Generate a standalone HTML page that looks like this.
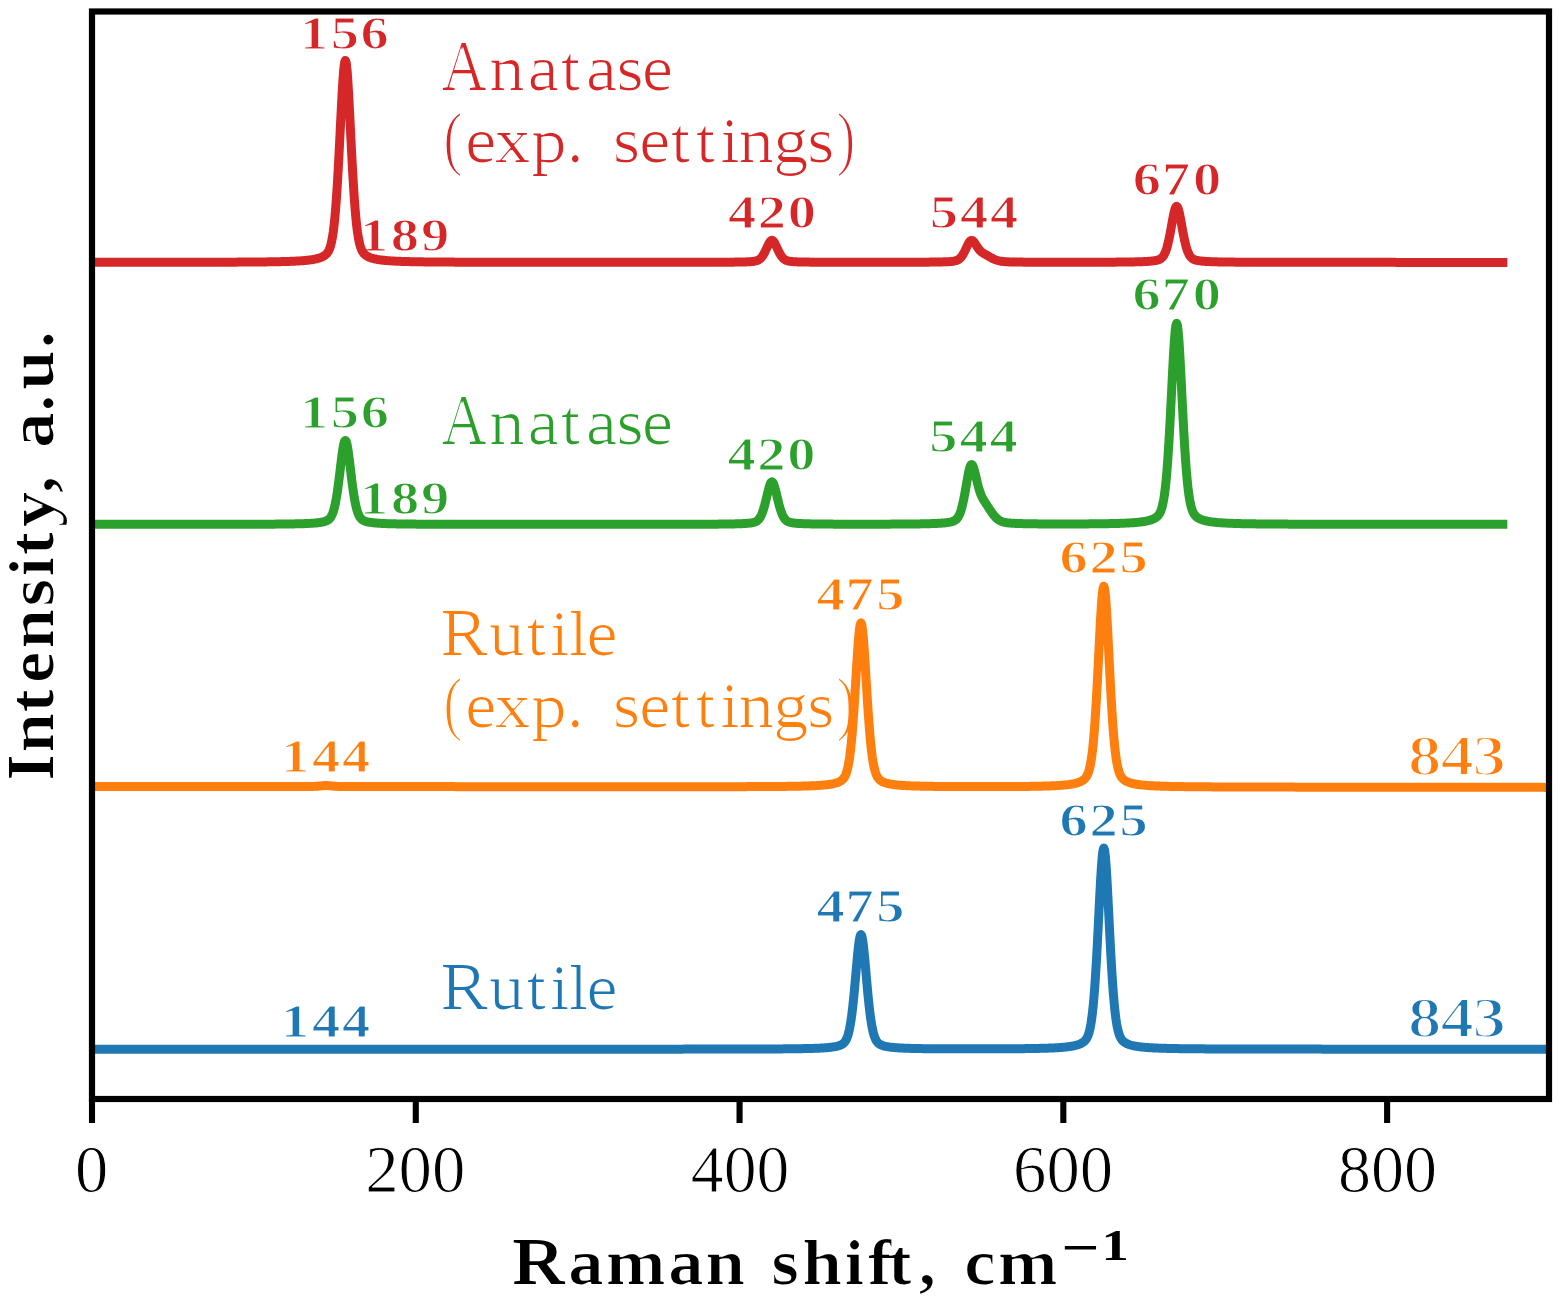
<!DOCTYPE html><html><head><meta charset="utf-8"><title>Raman spectra</title><style>html,body{margin:0;padding:0;background:#fff;}svg{display:block;}text{font-family:"Liberation Serif",serif;}</style></head><body>
<svg width="1562" height="1304" viewBox="0 0 1562 1304">
<rect width="1562" height="1304" fill="#fff"/>
<defs><filter id="erH" x="-5%" y="-10%" width="110%" height="120%"><feMorphology operator="erode" radius="1 0.01"/></filter><filter id="erV" x="-10%" y="-5%" width="120%" height="110%"><feMorphology operator="erode" radius="0.01 1"/></filter><clipPath id="ax"><rect x="92" y="11.5" width="1457" height="1087.5"/></clipPath></defs>
<text id="t0" transform="translate(74.90,1191.82) scale(0.9771,1)" font-size="68.15" font-weight="normal" fill="#000" stroke="#fff" stroke-width="1.02" stroke-linejoin="round">0</text>
<text id="t200" transform="translate(365.19,1191.82) scale(0.9814,1)" font-size="68.15" font-weight="normal" fill="#000" stroke="#fff" stroke-width="1.02" stroke-linejoin="round">200</text>
<text id="t400" transform="translate(690.79,1191.82) scale(0.9644,1)" font-size="68.15" font-weight="normal" fill="#000" stroke="#fff" stroke-width="1.04" stroke-linejoin="round">400</text>
<text id="t600" transform="translate(1013.06,1191.82) scale(0.9796,1)" font-size="68.15" font-weight="normal" fill="#000" stroke="#fff" stroke-width="1.02" stroke-linejoin="round">600</text>
<text id="t800" transform="translate(1338.02,1191.82) scale(0.9690,1)" font-size="68.15" font-weight="normal" fill="#000" stroke="#fff" stroke-width="1.03" stroke-linejoin="round">800</text>
<text id="xm" transform="translate(1061.45,1271.03) scale(0.9585,1)" font-size="70.00" font-weight="normal" fill="#000">−</text>
<text id="x1" transform="translate(1101.42,1259.50) scale(1.2154,1)" font-size="45.00" font-weight="bold" fill="#000">1</text>
<g filter="url(#erH)"><text id="rA" transform="translate(0,89.80) scale(1.1500,1)" x="383.80 425.33 458.49 487.50 509.18 535.63 557.91" y="0" font-size="62.61" font-weight="normal" fill="#d62728" xml:space="preserve"><tspan font-size="71.36" textLength="39.73" lengthAdjust="spacingAndGlyphs">A</tspan>natase</text></g>
<g filter="url(#erH)"><text id="gA" transform="translate(0,443.70) scale(1.1500,1)" x="383.80 425.33 458.49 487.50 509.18 535.63 557.91" y="0" font-size="62.61" font-weight="normal" fill="#2ca02c" xml:space="preserve"><tspan font-size="71.36" textLength="39.73" lengthAdjust="spacingAndGlyphs">A</tspan>natase</text></g>
<g filter="url(#erH)"><text id="bR" transform="translate(0,1008.50) scale(1.1500,1)" x="382.55 424.94 457.68 478.10 494.27 509.48" y="0" font-size="62.61" font-weight="normal" fill="#1f77b4" xml:space="preserve"><tspan font-size="68.09" textLength="42.02" lengthAdjust="spacingAndGlyphs">R</tspan>utile</text></g>
<g filter="url(#erH)"><text id="oR" transform="translate(0,654.70) scale(1.1500,1)" x="382.55 424.94 457.68 478.10 494.27 509.48" y="0" font-size="62.61" font-weight="normal" fill="#ff7f0e" xml:space="preserve"><tspan font-size="68.09" textLength="42.02" lengthAdjust="spacingAndGlyphs">R</tspan>utile</text></g>
<g filter="url(#erH)"><text id="rE" transform="translate(0,162.00) scale(1.1500,1)" x="385.32 404.09 430.08 461.65 492.35 513.91 532.67 555.48 582.98 604.81 626.10 641.94 671.99 701.45 727.22" y="0" font-size="62.61" font-weight="normal" fill="#d62728" xml:space="preserve"><tspan font-size="71.18" textLength="17.26" lengthAdjust="spacingAndGlyphs">(</tspan>exp. settings<tspan font-size="71.18" textLength="16.87" lengthAdjust="spacingAndGlyphs">)</tspan></text></g>
<g filter="url(#erH)"><text id="oE" transform="translate(0,727.00) scale(1.1500,1)" x="385.32 404.09 430.08 461.65 492.35 513.91 532.67 555.48 582.98 604.81 626.10 641.94 671.99 701.45 727.22" y="0" font-size="62.61" font-weight="normal" fill="#ff7f0e" xml:space="preserve"><tspan font-size="71.18" textLength="17.26" lengthAdjust="spacingAndGlyphs">(</tspan>exp. settings<tspan font-size="71.18" textLength="16.87" lengthAdjust="spacingAndGlyphs">)</tspan></text></g>
<g filter="url(#erH)"><text id="xl" transform="translate(0,1284.00) scale(1.1500,1)" x="444.86 493.77 526.49 580.73 613.07 648.64 670.42 697.32 734.15 754.27 772.07 798.47 818.21 838.09 867.36" y="0" font-size="63.04" font-weight="bold" fill="#000" xml:space="preserve"><tspan font-size="68.70" textLength="46.89" lengthAdjust="spacingAndGlyphs">R</tspan>aman shift, cm</text></g>
<g filter="url(#erV)"><text id="yl" transform="translate(53.00,0) rotate(-90) scale(1.1500,1)" x="-679.27 -654.85 -619.93 -594.44 -564.32 -527.67 -501.51 -483.32 -458.63 -429.18 -407.88 -389.79 -358.40 -339.35 -303.36" y="0" font-size="63.04" font-weight="bold" fill="#000" xml:space="preserve"><tspan font-size="68.70" textLength="24.03" lengthAdjust="spacingAndGlyphs">I</tspan>ntensity, a.u.</text></g>
<text id="r156" transform="translate(0,48.68) scale(1.2000,1)" x="249.98 275.57 300.51" y="0" font-size="47.00" font-weight="bold" fill="#d62728" stroke="#fff" stroke-width="1.10" stroke-linejoin="round" xml:space="preserve">156</text>
<text id="r189" transform="translate(0,250.88) scale(1.2000,1)" x="300.02 325.67 350.84" y="0" font-size="47.00" font-weight="bold" fill="#d62728" stroke="#fff" stroke-width="1.10" stroke-linejoin="round" xml:space="preserve">189</text>
<text id="r420" transform="translate(0,227.98) scale(1.2000,1)" x="606.62 631.50 656.50" y="0" font-size="47.00" font-weight="bold" fill="#d62728" stroke="#fff" stroke-width="1.10" stroke-linejoin="round" xml:space="preserve">420</text>
<text id="r544" transform="translate(0,227.98) scale(1.2000,1)" x="774.86 800.04 825.04" y="0" font-size="47.00" font-weight="bold" fill="#d62728" stroke="#fff" stroke-width="1.10" stroke-linejoin="round" xml:space="preserve">544</text>
<text id="r670" transform="translate(0,194.98) scale(1.2000,1)" x="944.01 968.36 994.13" y="0" font-size="47.00" font-weight="bold" fill="#d62728" stroke="#fff" stroke-width="1.10" stroke-linejoin="round" xml:space="preserve">670</text>
<text id="g156" transform="translate(0,427.68) scale(1.2000,1)" x="250.06 275.65 300.59" y="0" font-size="47.00" font-weight="bold" fill="#2ca02c" stroke="#fff" stroke-width="1.10" stroke-linejoin="round" xml:space="preserve">156</text>
<text id="g189" transform="translate(0,514.48) scale(1.2000,1)" x="300.10 325.75 350.93" y="0" font-size="47.00" font-weight="bold" fill="#2ca02c" stroke="#fff" stroke-width="1.10" stroke-linejoin="round" xml:space="preserve">189</text>
<text id="g420" transform="translate(0,469.58) scale(1.2000,1)" x="606.20 631.08 656.08" y="0" font-size="47.00" font-weight="bold" fill="#2ca02c" stroke="#fff" stroke-width="1.10" stroke-linejoin="round" xml:space="preserve">420</text>
<text id="g544" transform="translate(0,451.58) scale(1.2000,1)" x="774.36 799.54 824.54" y="0" font-size="47.00" font-weight="bold" fill="#2ca02c" stroke="#fff" stroke-width="1.10" stroke-linejoin="round" xml:space="preserve">544</text>
<text id="g670" transform="translate(0,310.48) scale(1.2000,1)" x="943.84 968.20 993.96" y="0" font-size="47.00" font-weight="bold" fill="#2ca02c" stroke="#fff" stroke-width="1.10" stroke-linejoin="round" xml:space="preserve">670</text>
<text id="o475" transform="translate(0,609.78) scale(1.2000,1)" x="680.37 704.49 730.19" y="0" font-size="47.00" font-weight="bold" fill="#ff7f0e" stroke="#fff" stroke-width="1.10" stroke-linejoin="round" xml:space="preserve">475</text>
<text id="o625" transform="translate(0,572.88) scale(1.2000,1)" x="882.88 908.00 932.94" y="0" font-size="47.00" font-weight="bold" fill="#ff7f0e" stroke="#fff" stroke-width="1.10" stroke-linejoin="round" xml:space="preserve">625</text>
<text id="o144" transform="translate(0,772.25) scale(1.2000,1)" x="234.31 260.08 285.08" y="0" font-size="47.00" font-weight="bold" fill="#ff7f0e" stroke="#fff" stroke-width="1.10" stroke-linejoin="round" xml:space="preserve">144</text>
<text id="b475" transform="translate(0,922.48) scale(1.2000,1)" x="680.37 704.49 730.19" y="0" font-size="47.00" font-weight="bold" fill="#1f77b4" stroke="#fff" stroke-width="1.10" stroke-linejoin="round" xml:space="preserve">475</text>
<text id="b625" transform="translate(0,835.98) scale(1.2000,1)" x="882.88 908.00 932.94" y="0" font-size="47.00" font-weight="bold" fill="#1f77b4" stroke="#fff" stroke-width="1.10" stroke-linejoin="round" xml:space="preserve">625</text>
<text id="b144" transform="translate(0,1037.05) scale(1.2000,1)" x="234.23 259.99 284.99" y="0" font-size="47.00" font-weight="bold" fill="#1f77b4" stroke="#fff" stroke-width="1.10" stroke-linejoin="round" xml:space="preserve">144</text>
<text id="o843" transform="translate(0,775.34) scale(1.2000,1)" x="1173.06 1200.11 1226.82" y="0" font-size="56.44" font-weight="bold" fill="#ff7f0e" stroke="#fff" stroke-width="2.20" stroke-linejoin="round" xml:space="preserve">843</text>
<text id="b843" transform="translate(0,1037.44) scale(1.2000,1)" x="1173.06 1200.11 1226.82" y="0" font-size="56.44" font-weight="bold" fill="#1f77b4" stroke="#fff" stroke-width="2.20" stroke-linejoin="round" xml:space="preserve">843</text>
<g clip-path="url(#ax)" fill="none" stroke-width="9.0" stroke-linejoin="round" stroke-linecap="square">
<path stroke="#d62728" d="M88.76,262.35 L89.57,262.35 L90.38,262.35 L91.19,262.35 L92.00,262.35 L92.81,262.35 L93.62,262.35 L94.43,262.35 L95.24,262.35 L96.05,262.35 L96.86,262.35 L97.67,262.35 L98.48,262.35 L99.28,262.35 L100.09,262.34 L100.90,262.34 L101.71,262.34 L102.52,262.34 L103.33,262.34 L104.14,262.34 L104.95,262.34 L105.76,262.34 L106.57,262.34 L107.38,262.34 L108.19,262.34 L109.00,262.34 L109.81,262.34 L110.62,262.34 L111.43,262.34 L112.24,262.34 L113.05,262.34 L113.86,262.34 L114.66,262.34 L115.47,262.34 L116.28,262.34 L117.09,262.34 L117.90,262.34 L118.71,262.34 L119.52,262.34 L120.33,262.33 L121.14,262.33 L121.95,262.33 L122.76,262.33 L123.57,262.33 L124.38,262.33 L125.19,262.33 L126.00,262.33 L126.81,262.33 L127.62,262.33 L128.43,262.33 L129.23,262.33 L130.04,262.33 L130.85,262.33 L131.66,262.33 L132.47,262.33 L133.28,262.33 L134.09,262.33 L134.90,262.33 L135.71,262.33 L136.52,262.32 L137.33,262.32 L138.14,262.32 L138.95,262.32 L139.76,262.32 L140.57,262.32 L141.38,262.32 L142.19,262.32 L143.00,262.32 L143.80,262.32 L144.61,262.32 L145.42,262.32 L146.23,262.32 L147.04,262.32 L147.85,262.32 L148.66,262.32 L149.47,262.31 L150.28,262.31 L151.09,262.31 L151.90,262.31 L152.71,262.31 L153.52,262.31 L154.33,262.31 L155.14,262.31 L155.95,262.31 L156.76,262.31 L157.56,262.31 L158.37,262.31 L159.18,262.31 L159.99,262.30 L160.80,262.30 L161.61,262.30 L162.42,262.30 L163.23,262.30 L164.04,262.30 L164.85,262.30 L165.66,262.30 L166.47,262.30 L167.28,262.30 L168.09,262.30 L168.90,262.30 L169.71,262.29 L170.52,262.29 L171.33,262.29 L172.13,262.29 L172.94,262.29 L173.75,262.29 L174.56,262.29 L175.37,262.29 L176.18,262.29 L176.99,262.28 L177.80,262.28 L178.61,262.28 L179.42,262.28 L180.23,262.28 L181.04,262.28 L181.85,262.28 L182.66,262.28 L183.47,262.28 L184.28,262.27 L185.09,262.27 L185.90,262.27 L186.70,262.27 L187.51,262.27 L188.32,262.27 L189.13,262.27 L189.94,262.27 L190.75,262.26 L191.56,262.26 L192.37,262.26 L193.18,262.26 L193.99,262.26 L194.80,262.26 L195.61,262.26 L196.42,262.25 L197.23,262.25 L198.04,262.25 L198.85,262.25 L199.66,262.25 L200.47,262.25 L201.27,262.24 L202.08,262.24 L202.89,262.24 L203.70,262.24 L204.51,262.24 L205.32,262.23 L206.13,262.23 L206.94,262.23 L207.75,262.23 L208.56,262.23 L209.37,262.22 L210.18,262.22 L210.99,262.22 L211.80,262.22 L212.61,262.22 L213.42,262.21 L214.23,262.21 L215.04,262.21 L215.84,262.21 L216.65,262.20 L217.46,262.20 L218.27,262.20 L219.08,262.20 L219.89,262.19 L220.70,262.19 L221.51,262.19 L222.32,262.19 L223.13,262.18 L223.94,262.18 L224.75,262.18 L225.56,262.18 L226.37,262.17 L227.18,262.17 L227.99,262.17 L228.80,262.16 L229.61,262.16 L230.41,262.16 L231.22,262.15 L232.03,262.15 L232.84,262.15 L233.65,262.14 L234.46,262.14 L235.27,262.13 L236.08,262.13 L236.89,262.13 L237.70,262.12 L238.51,262.12 L239.32,262.11 L240.13,262.11 L240.94,262.11 L241.75,262.10 L242.56,262.10 L243.37,262.09 L244.18,262.09 L244.98,262.08 L245.79,262.08 L246.60,262.07 L247.41,262.07 L248.22,262.06 L249.03,262.05 L249.84,262.05 L250.65,262.04 L251.46,262.04 L252.27,262.03 L253.08,262.02 L253.89,262.02 L254.70,262.01 L255.51,262.00 L256.32,262.00 L257.13,261.99 L257.94,261.98 L258.75,261.97 L259.56,261.97 L260.36,261.96 L261.17,261.95 L261.98,261.94 L262.79,261.93 L263.60,261.92 L264.41,261.91 L265.22,261.90 L266.03,261.89 L266.84,261.88 L267.65,261.87 L268.46,261.86 L269.27,261.85 L270.08,261.84 L270.89,261.83 L271.70,261.81 L272.51,261.80 L273.32,261.79 L274.12,261.77 L274.93,261.76 L275.74,261.74 L276.55,261.73 L277.36,261.71 L278.17,261.70 L278.98,261.68 L279.79,261.66 L280.60,261.64 L281.41,261.62 L282.22,261.60 L283.03,261.58 L283.84,261.56 L284.65,261.54 L285.46,261.52 L286.27,261.49 L287.08,261.47 L287.89,261.44 L288.69,261.42 L289.50,261.39 L290.31,261.36 L291.12,261.33 L291.93,261.30 L292.74,261.26 L293.55,261.23 L294.36,261.19 L295.17,261.15 L295.98,261.11 L296.79,261.07 L297.60,261.02 L298.41,260.98 L299.22,260.93 L300.03,260.88 L300.84,260.82 L301.65,260.76 L302.46,260.70 L303.26,260.64 L304.07,260.57 L304.88,260.50 L305.69,260.42 L306.50,260.34 L307.31,260.26 L308.12,260.17 L308.93,260.07 L309.74,259.97 L310.55,259.86 L311.36,259.74 L312.17,259.61 L312.98,259.48 L313.79,259.33 L314.60,259.18 L315.41,259.01 L316.22,258.83 L317.03,258.63 L317.83,258.42 L318.64,258.19 L319.45,257.94 L320.26,257.66 L321.07,257.35 L321.88,257.02 L322.69,256.64 L323.50,256.21 L324.31,255.71 L325.12,255.13 L325.93,254.44 L326.74,253.61 L327.55,252.58 L328.36,251.29 L329.17,249.66 L329.98,247.59 L330.79,244.96 L331.60,241.62 L332.40,237.41 L333.21,232.17 L334.02,225.74 L334.83,217.95 L335.64,208.68 L336.45,197.88 L337.26,185.55 L338.07,171.78 L338.88,156.78 L339.69,140.89 L340.50,124.56 L341.31,108.42 L342.12,93.24 L342.93,79.93 L343.74,69.45 L344.55,62.72 L345.36,60.40 L346.17,62.72 L346.98,69.45 L347.78,79.93 L348.59,93.24 L349.40,108.42 L350.21,124.56 L351.02,140.89 L351.83,156.78 L352.64,171.78 L353.45,185.55 L354.26,197.88 L355.07,208.68 L355.88,217.95 L356.69,225.74 L357.50,232.17 L358.31,237.41 L359.12,241.62 L359.93,244.96 L360.74,247.59 L361.55,249.66 L362.35,251.29 L363.16,252.58 L363.97,253.61 L364.78,254.44 L365.59,255.13 L366.40,255.71 L367.21,256.21 L368.02,256.64 L368.83,257.01 L369.64,257.35 L370.45,257.66 L371.26,257.93 L372.07,258.19 L372.88,258.42 L373.69,258.63 L374.50,258.83 L375.31,259.01 L376.12,259.18 L376.92,259.33 L377.73,259.48 L378.54,259.61 L379.35,259.74 L380.16,259.86 L380.97,259.97 L381.78,260.07 L382.59,260.17 L383.40,260.26 L384.21,260.34 L385.02,260.42 L385.83,260.50 L386.64,260.57 L387.45,260.64 L388.26,260.70 L389.07,260.76 L389.88,260.82 L390.69,260.88 L391.49,260.93 L392.30,260.98 L393.11,261.02 L393.92,261.07 L394.73,261.11 L395.54,261.15 L396.35,261.19 L397.16,261.23 L397.97,261.26 L398.78,261.29 L399.59,261.33 L400.40,261.36 L401.21,261.39 L402.02,261.41 L402.83,261.44 L403.64,261.47 L404.45,261.49 L405.25,261.52 L406.06,261.54 L406.87,261.56 L407.68,261.58 L408.49,261.60 L409.30,261.62 L410.11,261.64 L410.92,261.66 L411.73,261.68 L412.54,261.69 L413.35,261.71 L414.16,261.73 L414.97,261.74 L415.78,261.76 L416.59,261.77 L417.40,261.78 L418.21,261.80 L419.02,261.81 L419.82,261.82 L420.63,261.84 L421.44,261.85 L422.25,261.86 L423.06,261.87 L423.87,261.88 L424.68,261.89 L425.49,261.90 L426.30,261.91 L427.11,261.92 L427.92,261.93 L428.73,261.94 L429.54,261.95 L430.35,261.95 L431.16,261.96 L431.97,261.97 L432.78,261.98 L433.59,261.99 L434.39,261.99 L435.20,262.00 L436.01,262.01 L436.82,262.01 L437.63,262.02 L438.44,262.03 L439.25,262.03 L440.06,262.04 L440.87,262.05 L441.68,262.05 L442.49,262.06 L443.30,262.06 L444.11,262.07 L444.92,262.07 L445.73,262.08 L446.54,262.08 L447.35,262.09 L448.16,262.09 L448.96,262.10 L449.77,262.10 L450.58,262.11 L451.39,262.11 L452.20,262.11 L453.01,262.12 L453.82,262.12 L454.63,262.13 L455.44,262.13 L456.25,262.13 L457.06,262.14 L457.87,262.14 L458.68,262.15 L459.49,262.15 L460.30,262.15 L461.11,262.16 L461.92,262.16 L462.73,262.16 L463.53,262.16 L464.34,262.17 L465.15,262.17 L465.96,262.17 L466.77,262.18 L467.58,262.18 L468.39,262.18 L469.20,262.19 L470.01,262.19 L470.82,262.19 L471.63,262.19 L472.44,262.20 L473.25,262.20 L474.06,262.20 L474.87,262.20 L475.68,262.20 L476.49,262.21 L477.30,262.21 L478.10,262.21 L478.91,262.21 L479.72,262.22 L480.53,262.22 L481.34,262.22 L482.15,262.22 L482.96,262.22 L483.77,262.23 L484.58,262.23 L485.39,262.23 L486.20,262.23 L487.01,262.23 L487.82,262.23 L488.63,262.24 L489.44,262.24 L490.25,262.24 L491.06,262.24 L491.87,262.24 L492.68,262.24 L493.48,262.25 L494.29,262.25 L495.10,262.25 L495.91,262.25 L496.72,262.25 L497.53,262.25 L498.34,262.26 L499.15,262.26 L499.96,262.26 L500.77,262.26 L501.58,262.26 L502.39,262.26 L503.20,262.26 L504.01,262.26 L504.82,262.27 L505.63,262.27 L506.44,262.27 L507.25,262.27 L508.05,262.27 L508.86,262.27 L509.67,262.27 L510.48,262.27 L511.29,262.27 L512.10,262.28 L512.91,262.28 L513.72,262.28 L514.53,262.28 L515.34,262.28 L516.15,262.28 L516.96,262.28 L517.77,262.28 L518.58,262.28 L519.39,262.28 L520.20,262.29 L521.01,262.29 L521.82,262.29 L522.62,262.29 L523.43,262.29 L524.24,262.29 L525.05,262.29 L525.86,262.29 L526.67,262.29 L527.48,262.29 L528.29,262.29 L529.10,262.30 L529.91,262.30 L530.72,262.30 L531.53,262.30 L532.34,262.30 L533.15,262.30 L533.96,262.30 L534.77,262.30 L535.58,262.30 L536.38,262.30 L537.19,262.30 L538.00,262.30 L538.81,262.30 L539.62,262.30 L540.43,262.30 L541.24,262.31 L542.05,262.31 L542.86,262.31 L543.67,262.31 L544.48,262.31 L545.29,262.31 L546.10,262.31 L546.91,262.31 L547.72,262.31 L548.53,262.31 L549.34,262.31 L550.15,262.31 L550.95,262.31 L551.76,262.31 L552.57,262.31 L553.38,262.31 L554.19,262.31 L555.00,262.32 L555.81,262.32 L556.62,262.32 L557.43,262.32 L558.24,262.32 L559.05,262.32 L559.86,262.32 L560.67,262.32 L561.48,262.32 L562.29,262.32 L563.10,262.32 L563.91,262.32 L564.72,262.32 L565.52,262.32 L566.33,262.32 L567.14,262.32 L567.95,262.32 L568.76,262.32 L569.57,262.32 L570.38,262.32 L571.19,262.32 L572.00,262.32 L572.81,262.32 L573.62,262.32 L574.43,262.32 L575.24,262.33 L576.05,262.33 L576.86,262.33 L577.67,262.33 L578.48,262.33 L579.29,262.33 L580.10,262.33 L580.90,262.33 L581.71,262.33 L582.52,262.33 L583.33,262.33 L584.14,262.33 L584.95,262.33 L585.76,262.33 L586.57,262.33 L587.38,262.33 L588.19,262.33 L589.00,262.33 L589.81,262.33 L590.62,262.33 L591.43,262.33 L592.24,262.33 L593.05,262.33 L593.86,262.33 L594.66,262.33 L595.47,262.33 L596.28,262.33 L597.09,262.33 L597.90,262.33 L598.71,262.33 L599.52,262.33 L600.33,262.33 L601.14,262.33 L601.95,262.33 L602.76,262.33 L603.57,262.33 L604.38,262.33 L605.19,262.33 L606.00,262.33 L606.81,262.33 L607.62,262.33 L608.43,262.33 L609.24,262.33 L610.04,262.33 L610.85,262.33 L611.66,262.34 L612.47,262.34 L613.28,262.34 L614.09,262.34 L614.90,262.34 L615.71,262.34 L616.52,262.34 L617.33,262.34 L618.14,262.34 L618.95,262.34 L619.76,262.34 L620.57,262.34 L621.38,262.34 L622.19,262.34 L623.00,262.34 L623.80,262.34 L624.61,262.34 L625.42,262.34 L626.23,262.34 L627.04,262.34 L627.85,262.34 L628.66,262.34 L629.47,262.34 L630.28,262.34 L631.09,262.34 L631.90,262.34 L632.71,262.34 L633.52,262.34 L634.33,262.34 L635.14,262.34 L635.95,262.34 L636.76,262.34 L637.57,262.34 L638.38,262.34 L639.18,262.34 L639.99,262.34 L640.80,262.34 L641.61,262.34 L642.42,262.34 L643.23,262.34 L644.04,262.34 L644.85,262.34 L645.66,262.34 L646.47,262.34 L647.28,262.33 L648.09,262.33 L648.90,262.33 L649.71,262.33 L650.52,262.33 L651.33,262.33 L652.14,262.33 L652.94,262.33 L653.75,262.33 L654.56,262.33 L655.37,262.33 L656.18,262.33 L656.99,262.33 L657.80,262.33 L658.61,262.33 L659.42,262.33 L660.23,262.33 L661.04,262.33 L661.85,262.33 L662.66,262.33 L663.47,262.33 L664.28,262.33 L665.09,262.33 L665.90,262.33 L666.71,262.33 L667.51,262.33 L668.32,262.33 L669.13,262.33 L669.94,262.33 L670.75,262.33 L671.56,262.33 L672.37,262.33 L673.18,262.33 L673.99,262.33 L674.80,262.33 L675.61,262.32 L676.42,262.32 L677.23,262.32 L678.04,262.32 L678.85,262.32 L679.66,262.32 L680.47,262.32 L681.28,262.32 L682.08,262.32 L682.89,262.32 L683.70,262.32 L684.51,262.32 L685.32,262.32 L686.13,262.32 L686.94,262.32 L687.75,262.31 L688.56,262.31 L689.37,262.31 L690.18,262.31 L690.99,262.31 L691.80,262.31 L692.61,262.31 L693.42,262.31 L694.23,262.31 L695.04,262.31 L695.85,262.30 L696.65,262.30 L697.46,262.30 L698.27,262.30 L699.08,262.30 L699.89,262.30 L700.70,262.30 L701.51,262.29 L702.32,262.29 L703.13,262.29 L703.94,262.29 L704.75,262.29 L705.56,262.29 L706.37,262.28 L707.18,262.28 L707.99,262.28 L708.80,262.28 L709.61,262.28 L710.42,262.27 L711.23,262.27 L712.03,262.27 L712.84,262.27 L713.65,262.26 L714.46,262.26 L715.27,262.26 L716.08,262.26 L716.89,262.25 L717.70,262.25 L718.51,262.25 L719.32,262.24 L720.13,262.24 L720.94,262.23 L721.75,262.23 L722.56,262.23 L723.37,262.22 L724.18,262.22 L724.99,262.21 L725.79,262.21 L726.60,262.20 L727.41,262.19 L728.22,262.19 L729.03,262.18 L729.84,262.17 L730.65,262.17 L731.46,262.16 L732.27,262.15 L733.08,262.14 L733.89,262.13 L734.70,262.12 L735.51,262.11 L736.32,262.10 L737.13,262.09 L737.94,262.08 L738.75,262.06 L739.56,262.05 L740.37,262.03 L741.17,262.02 L741.98,262.00 L742.79,261.98 L743.60,261.96 L744.41,261.93 L745.22,261.91 L746.03,261.88 L746.84,261.85 L747.65,261.82 L748.46,261.78 L749.27,261.74 L750.08,261.69 L750.89,261.64 L751.70,261.57 L752.51,261.50 L753.32,261.41 L754.13,261.30 L754.93,261.16 L755.74,260.98 L756.55,260.75 L757.36,260.47 L758.17,260.10 L758.98,259.64 L759.79,259.07 L760.60,258.37 L761.41,257.52 L762.22,256.52 L763.03,255.34 L763.84,254.00 L764.65,252.50 L765.46,250.86 L766.27,249.13 L767.08,247.35 L767.89,245.60 L768.70,243.94 L769.50,242.49 L770.31,241.35 L771.12,240.62 L771.93,240.37 L772.74,240.62 L773.55,241.35 L774.36,242.49 L775.17,243.94 L775.98,245.60 L776.79,247.35 L777.60,249.13 L778.41,250.86 L779.22,252.50 L780.03,254.00 L780.84,255.34 L781.65,256.51 L782.46,257.52 L783.27,258.37 L784.07,259.07 L784.88,259.64 L785.69,260.10 L786.50,260.46 L787.31,260.75 L788.12,260.98 L788.93,261.15 L789.74,261.29 L790.55,261.41 L791.36,261.50 L792.17,261.57 L792.98,261.64 L793.79,261.69 L794.60,261.74 L795.41,261.78 L796.22,261.81 L797.03,261.85 L797.84,261.88 L798.64,261.90 L799.45,261.93 L800.26,261.95 L801.07,261.97 L801.88,261.99 L802.69,262.01 L803.50,262.03 L804.31,262.04 L805.12,262.06 L805.93,262.07 L806.74,262.08 L807.55,262.10 L808.36,262.11 L809.17,262.12 L809.98,262.13 L810.79,262.14 L811.60,262.15 L812.41,262.15 L813.21,262.16 L814.02,262.17 L814.83,262.18 L815.64,262.18 L816.45,262.19 L817.26,262.19 L818.07,262.20 L818.88,262.20 L819.69,262.21 L820.50,262.21 L821.31,262.22 L822.12,262.22 L822.93,262.23 L823.74,262.23 L824.55,262.23 L825.36,262.24 L826.17,262.24 L826.98,262.24 L827.78,262.25 L828.59,262.25 L829.40,262.25 L830.21,262.25 L831.02,262.26 L831.83,262.26 L832.64,262.26 L833.45,262.26 L834.26,262.27 L835.07,262.27 L835.88,262.27 L836.69,262.27 L837.50,262.27 L838.31,262.27 L839.12,262.28 L839.93,262.28 L840.74,262.28 L841.55,262.28 L842.36,262.28 L843.16,262.28 L843.97,262.28 L844.78,262.29 L845.59,262.29 L846.40,262.29 L847.21,262.29 L848.02,262.29 L848.83,262.29 L849.64,262.29 L850.45,262.29 L851.26,262.29 L852.07,262.29 L852.88,262.29 L853.69,262.29 L854.50,262.29 L855.31,262.30 L856.12,262.30 L856.92,262.30 L857.73,262.30 L858.54,262.30 L859.35,262.30 L860.16,262.30 L860.97,262.30 L861.78,262.30 L862.59,262.30 L863.40,262.30 L864.21,262.30 L865.02,262.30 L865.83,262.30 L866.64,262.30 L867.45,262.30 L868.26,262.30 L869.07,262.30 L869.88,262.30 L870.69,262.30 L871.50,262.30 L872.30,262.30 L873.11,262.30 L873.92,262.30 L874.73,262.30 L875.54,262.30 L876.35,262.30 L877.16,262.30 L877.97,262.30 L878.78,262.30 L879.59,262.30 L880.40,262.29 L881.21,262.29 L882.02,262.29 L882.83,262.29 L883.64,262.29 L884.45,262.29 L885.26,262.29 L886.06,262.29 L886.87,262.29 L887.68,262.29 L888.49,262.29 L889.30,262.29 L890.11,262.29 L890.92,262.29 L891.73,262.28 L892.54,262.28 L893.35,262.28 L894.16,262.28 L894.97,262.28 L895.78,262.28 L896.59,262.28 L897.40,262.28 L898.21,262.27 L899.02,262.27 L899.83,262.27 L900.63,262.27 L901.44,262.27 L902.25,262.27 L903.06,262.26 L903.87,262.26 L904.68,262.26 L905.49,262.26 L906.30,262.26 L907.11,262.25 L907.92,262.25 L908.73,262.25 L909.54,262.25 L910.35,262.24 L911.16,262.24 L911.97,262.24 L912.78,262.23 L913.59,262.23 L914.40,262.23 L915.20,262.22 L916.01,262.22 L916.82,262.22 L917.63,262.21 L918.44,262.21 L919.25,262.20 L920.06,262.20 L920.87,262.20 L921.68,262.19 L922.49,262.19 L923.30,262.18 L924.11,262.17 L924.92,262.17 L925.73,262.16 L926.54,262.15 L927.35,262.15 L928.16,262.14 L928.97,262.13 L929.77,262.12 L930.58,262.12 L931.39,262.11 L932.20,262.10 L933.01,262.09 L933.82,262.08 L934.63,262.06 L935.44,262.05 L936.25,262.04 L937.06,262.02 L937.87,262.01 L938.68,261.99 L939.49,261.98 L940.30,261.96 L941.11,261.94 L941.92,261.92 L942.73,261.89 L943.54,261.87 L944.34,261.84 L945.15,261.81 L945.96,261.78 L946.77,261.75 L947.58,261.71 L948.39,261.67 L949.20,261.62 L950.01,261.56 L950.82,261.50 L951.63,261.43 L952.44,261.34 L953.25,261.23 L954.06,261.10 L954.87,260.93 L955.68,260.72 L956.49,260.46 L957.30,260.13 L958.11,259.71 L958.91,259.18 L959.72,258.54 L960.53,257.76 L961.34,256.83 L962.15,255.74 L962.96,254.49 L963.77,253.08 L964.58,251.53 L965.39,249.88 L966.20,248.15 L967.01,246.42 L967.82,244.75 L968.63,243.23 L969.44,241.95 L970.25,241.01 L971.06,240.47 L971.87,240.38 L972.68,240.71 L973.49,241.41 L974.29,242.39 L975.10,243.56 L975.91,244.82 L976.72,246.10 L977.53,247.34 L978.34,248.50 L979.15,249.55 L979.96,250.49 L980.77,251.30 L981.58,252.00 L982.39,252.61 L983.20,253.15 L984.01,253.65 L984.82,254.11 L985.63,254.57 L986.44,255.02 L987.25,255.48 L988.05,255.94 L988.86,256.40 L989.67,256.87 L990.48,257.32 L991.29,257.77 L992.10,258.20 L992.91,258.61 L993.72,258.99 L994.53,259.35 L995.34,259.68 L996.15,259.98 L996.96,260.26 L997.77,260.50 L998.58,260.72 L999.39,260.91 L1000.20,261.07 L1001.01,261.21 L1001.82,261.34 L1002.62,261.44 L1003.43,261.53 L1004.24,261.61 L1005.05,261.67 L1005.86,261.73 L1006.67,261.77 L1007.48,261.81 L1008.29,261.85 L1009.10,261.88 L1009.91,261.91 L1010.72,261.93 L1011.53,261.95 L1012.34,261.97 L1013.15,261.99 L1013.96,262.00 L1014.77,262.02 L1015.58,262.03 L1016.39,262.05 L1017.19,262.06 L1018.00,262.07 L1018.81,262.08 L1019.62,262.09 L1020.43,262.10 L1021.24,262.11 L1022.05,262.12 L1022.86,262.12 L1023.67,262.13 L1024.48,262.14 L1025.29,262.15 L1026.10,262.15 L1026.91,262.16 L1027.72,262.16 L1028.53,262.17 L1029.34,262.17 L1030.15,262.18 L1030.96,262.18 L1031.76,262.19 L1032.57,262.19 L1033.38,262.20 L1034.19,262.20 L1035.00,262.20 L1035.81,262.21 L1036.62,262.21 L1037.43,262.21 L1038.24,262.22 L1039.05,262.22 L1039.86,262.22 L1040.67,262.22 L1041.48,262.23 L1042.29,262.23 L1043.10,262.23 L1043.91,262.23 L1044.72,262.23 L1045.53,262.24 L1046.34,262.24 L1047.14,262.24 L1047.95,262.24 L1048.76,262.24 L1049.57,262.24 L1050.38,262.24 L1051.19,262.25 L1052.00,262.25 L1052.81,262.25 L1053.62,262.25 L1054.43,262.25 L1055.24,262.25 L1056.05,262.25 L1056.86,262.25 L1057.67,262.25 L1058.48,262.25 L1059.29,262.25 L1060.10,262.26 L1060.90,262.26 L1061.71,262.26 L1062.52,262.26 L1063.33,262.26 L1064.14,262.26 L1064.95,262.26 L1065.76,262.26 L1066.57,262.26 L1067.38,262.26 L1068.19,262.26 L1069.00,262.26 L1069.81,262.26 L1070.62,262.26 L1071.43,262.26 L1072.24,262.26 L1073.05,262.26 L1073.86,262.26 L1074.67,262.26 L1075.47,262.25 L1076.28,262.25 L1077.09,262.25 L1077.90,262.25 L1078.71,262.25 L1079.52,262.25 L1080.33,262.25 L1081.14,262.25 L1081.95,262.25 L1082.76,262.25 L1083.57,262.25 L1084.38,262.25 L1085.19,262.24 L1086.00,262.24 L1086.81,262.24 L1087.62,262.24 L1088.43,262.24 L1089.24,262.24 L1090.05,262.24 L1090.85,262.23 L1091.66,262.23 L1092.47,262.23 L1093.28,262.23 L1094.09,262.23 L1094.90,262.22 L1095.71,262.22 L1096.52,262.22 L1097.33,262.22 L1098.14,262.22 L1098.95,262.21 L1099.76,262.21 L1100.57,262.21 L1101.38,262.21 L1102.19,262.20 L1103.00,262.20 L1103.81,262.20 L1104.62,262.19 L1105.42,262.19 L1106.23,262.19 L1107.04,262.18 L1107.85,262.18 L1108.66,262.17 L1109.47,262.17 L1110.28,262.17 L1111.09,262.16 L1111.90,262.16 L1112.71,262.15 L1113.52,262.15 L1114.33,262.14 L1115.14,262.14 L1115.95,262.13 L1116.76,262.12 L1117.57,262.12 L1118.38,262.11 L1119.18,262.10 L1119.99,262.10 L1120.80,262.09 L1121.61,262.08 L1122.42,262.07 L1123.23,262.06 L1124.04,262.06 L1124.85,262.05 L1125.66,262.04 L1126.47,262.03 L1127.28,262.01 L1128.09,262.00 L1128.90,261.99 L1129.71,261.98 L1130.52,261.96 L1131.33,261.95 L1132.14,261.94 L1132.95,261.92 L1133.75,261.90 L1134.56,261.89 L1135.37,261.87 L1136.18,261.85 L1136.99,261.83 L1137.80,261.80 L1138.61,261.78 L1139.42,261.76 L1140.23,261.73 L1141.04,261.70 L1141.85,261.67 L1142.66,261.64 L1143.47,261.60 L1144.28,261.57 L1145.09,261.53 L1145.90,261.48 L1146.71,261.44 L1147.52,261.39 L1148.33,261.33 L1149.13,261.27 L1149.94,261.21 L1150.75,261.14 L1151.56,261.06 L1152.37,260.98 L1153.18,260.89 L1153.99,260.78 L1154.80,260.66 L1155.61,260.52 L1156.42,260.36 L1157.23,260.17 L1158.04,259.94 L1158.85,259.66 L1159.66,259.30 L1160.47,258.85 L1161.28,258.27 L1162.09,257.54 L1162.89,256.62 L1163.70,255.45 L1164.51,254.00 L1165.32,252.22 L1166.13,250.06 L1166.94,247.49 L1167.75,244.50 L1168.56,241.08 L1169.37,237.26 L1170.18,233.10 L1170.99,228.69 L1171.80,224.17 L1172.61,219.69 L1173.42,215.49 L1174.23,211.80 L1175.04,208.89 L1175.85,207.03 L1176.66,206.38 L1177.46,207.03 L1178.27,208.89 L1179.08,211.80 L1179.89,215.49 L1180.70,219.70 L1181.51,224.17 L1182.32,228.70 L1183.13,233.10 L1183.94,237.26 L1184.75,241.08 L1185.56,244.50 L1186.37,247.49 L1187.18,250.06 L1187.99,252.22 L1188.80,254.00 L1189.61,255.46 L1190.42,256.62 L1191.23,257.55 L1192.03,258.28 L1192.84,258.85 L1193.65,259.30 L1194.46,259.66 L1195.27,259.95 L1196.08,260.18 L1196.89,260.37 L1197.70,260.53 L1198.51,260.67 L1199.32,260.79 L1200.13,260.89 L1200.94,260.99 L1201.75,261.07 L1202.56,261.15 L1203.37,261.22 L1204.18,261.28 L1204.99,261.34 L1205.80,261.40 L1206.61,261.45 L1207.41,261.49 L1208.22,261.54 L1209.03,261.58 L1209.84,261.61 L1210.65,261.65 L1211.46,261.68 L1212.27,261.71 L1213.08,261.74 L1213.89,261.77 L1214.70,261.79 L1215.51,261.82 L1216.32,261.84 L1217.13,261.86 L1217.94,261.88 L1218.75,261.90 L1219.56,261.92 L1220.37,261.93 L1221.17,261.95 L1221.98,261.96 L1222.79,261.98 L1223.60,261.99 L1224.41,262.01 L1225.22,262.02 L1226.03,262.03 L1226.84,262.04 L1227.65,262.05 L1228.46,262.06 L1229.27,262.07 L1230.08,262.08 L1230.89,262.09 L1231.70,262.10 L1232.51,262.11 L1233.32,262.12 L1234.13,262.12 L1234.94,262.13 L1235.74,262.14 L1236.55,262.14 L1237.36,262.15 L1238.17,262.16 L1238.98,262.16 L1239.79,262.17 L1240.60,262.17 L1241.41,262.18 L1242.22,262.18 L1243.03,262.19 L1243.84,262.19 L1244.65,262.20 L1245.46,262.20 L1246.27,262.21 L1247.08,262.21 L1247.89,262.22 L1248.70,262.22 L1249.51,262.22 L1250.32,262.23 L1251.12,262.23 L1251.93,262.23 L1252.74,262.24 L1253.55,262.24 L1254.36,262.24 L1255.17,262.25 L1255.98,262.25 L1256.79,262.25 L1257.60,262.25 L1258.41,262.26 L1259.22,262.26 L1260.03,262.26 L1260.84,262.26 L1261.65,262.27 L1262.46,262.27 L1263.27,262.27 L1264.08,262.27 L1264.88,262.28 L1265.69,262.28 L1266.50,262.28 L1267.31,262.28 L1268.12,262.28 L1268.93,262.29 L1269.74,262.29 L1270.55,262.29 L1271.36,262.29 L1272.17,262.29 L1272.98,262.29 L1273.79,262.30 L1274.60,262.30 L1275.41,262.30 L1276.22,262.30 L1277.03,262.30 L1277.84,262.30 L1278.65,262.30 L1279.45,262.31 L1280.26,262.31 L1281.07,262.31 L1281.88,262.31 L1282.69,262.31 L1283.50,262.31 L1284.31,262.31 L1285.12,262.32 L1285.93,262.32 L1286.74,262.32 L1287.55,262.32 L1288.36,262.32 L1289.17,262.32 L1289.98,262.32 L1290.79,262.32 L1291.60,262.32 L1292.41,262.32 L1293.22,262.33 L1294.02,262.33 L1294.83,262.33 L1295.64,262.33 L1296.45,262.33 L1297.26,262.33 L1298.07,262.33 L1298.88,262.33 L1299.69,262.33 L1300.50,262.33 L1301.31,262.33 L1302.12,262.33 L1302.93,262.34 L1303.74,262.34 L1304.55,262.34 L1305.36,262.34 L1306.17,262.34 L1306.98,262.34 L1307.79,262.34 L1308.60,262.34 L1309.40,262.34 L1310.21,262.34 L1311.02,262.34 L1311.83,262.34 L1312.64,262.34 L1313.45,262.34 L1314.26,262.34 L1315.07,262.35 L1315.88,262.35 L1316.69,262.35 L1317.50,262.35 L1318.31,262.35 L1319.12,262.35 L1319.93,262.35 L1320.74,262.35 L1321.55,262.35 L1322.36,262.35 L1323.16,262.35 L1323.97,262.35 L1324.78,262.35 L1325.59,262.35 L1326.40,262.35 L1327.21,262.35 L1328.02,262.35 L1328.83,262.35 L1329.64,262.35 L1330.45,262.35 L1331.26,262.35 L1332.07,262.36 L1332.88,262.36 L1333.69,262.36 L1334.50,262.36 L1335.31,262.36 L1336.12,262.36 L1336.93,262.36 L1337.73,262.36 L1338.54,262.36 L1339.35,262.36 L1340.16,262.36 L1340.97,262.36 L1341.78,262.36 L1342.59,262.36 L1343.40,262.36 L1344.21,262.36 L1345.02,262.36 L1345.83,262.36 L1346.64,262.36 L1347.45,262.36 L1348.26,262.36 L1349.07,262.36 L1349.88,262.36 L1350.69,262.36 L1351.50,262.36 L1352.30,262.36 L1353.11,262.36 L1353.92,262.36 L1354.73,262.36 L1355.54,262.36 L1356.35,262.37 L1357.16,262.37 L1357.97,262.37 L1358.78,262.37 L1359.59,262.37 L1360.40,262.37 L1361.21,262.37 L1362.02,262.37 L1362.83,262.37 L1363.64,262.37 L1364.45,262.37 L1365.26,262.37 L1366.07,262.37 L1366.88,262.37 L1367.68,262.37 L1368.49,262.37 L1369.30,262.37 L1370.11,262.37 L1370.92,262.37 L1371.73,262.37 L1372.54,262.37 L1373.35,262.37 L1374.16,262.37 L1374.97,262.37 L1375.78,262.37 L1376.59,262.37 L1377.40,262.37 L1378.21,262.37 L1379.02,262.37 L1379.83,262.37 L1380.64,262.37 L1381.44,262.37 L1382.25,262.37 L1383.06,262.37 L1383.87,262.37 L1384.68,262.37 L1385.49,262.37 L1386.30,262.37 L1387.11,262.37 L1387.92,262.37 L1388.73,262.37 L1389.54,262.37 L1390.35,262.37 L1391.16,262.37 L1391.97,262.37 L1392.78,262.37 L1393.59,262.37 L1394.40,262.37 L1395.21,262.37 L1396.01,262.38 L1396.82,262.38 L1397.63,262.38 L1398.44,262.38 L1399.25,262.38 L1400.06,262.38 L1400.87,262.38 L1401.68,262.38 L1402.49,262.38 L1403.30,262.38 L1404.11,262.38 L1404.92,262.38 L1405.73,262.38 L1406.54,262.38 L1407.35,262.38 L1408.16,262.38 L1408.97,262.38 L1409.78,262.38 L1410.59,262.38 L1411.39,262.38 L1412.20,262.38 L1413.01,262.38 L1413.82,262.38 L1414.63,262.38 L1415.44,262.38 L1416.25,262.38 L1417.06,262.38 L1417.87,262.38 L1418.68,262.38 L1419.49,262.38 L1420.30,262.38 L1421.11,262.38 L1421.92,262.38 L1422.73,262.38 L1423.54,262.38 L1424.35,262.38 L1425.15,262.38 L1425.96,262.38 L1426.77,262.38 L1427.58,262.38 L1428.39,262.38 L1429.20,262.38 L1430.01,262.38 L1430.82,262.38 L1431.63,262.38 L1432.44,262.38 L1433.25,262.38 L1434.06,262.38 L1434.87,262.38 L1435.68,262.38 L1436.49,262.38 L1437.30,262.38 L1438.11,262.38 L1438.92,262.38 L1439.72,262.38 L1440.53,262.38 L1441.34,262.38 L1442.15,262.38 L1442.96,262.38 L1443.77,262.38 L1444.58,262.38 L1445.39,262.38 L1446.20,262.38 L1447.01,262.38 L1447.82,262.38 L1448.63,262.38 L1449.44,262.38 L1450.25,262.38 L1451.06,262.38 L1451.87,262.38 L1452.68,262.38 L1453.49,262.38 L1454.29,262.38 L1455.10,262.38 L1455.91,262.38 L1456.72,262.38 L1457.53,262.38 L1458.34,262.38 L1459.15,262.38 L1459.96,262.38 L1460.77,262.38 L1461.58,262.38 L1462.39,262.38 L1463.20,262.38 L1464.01,262.38 L1464.82,262.38 L1465.63,262.38 L1466.44,262.38 L1467.25,262.38 L1468.06,262.38 L1468.87,262.38 L1469.67,262.38 L1470.48,262.38 L1471.29,262.38 L1472.10,262.38 L1472.91,262.38 L1473.72,262.38 L1474.53,262.38 L1475.34,262.38 L1476.15,262.38 L1476.96,262.39 L1477.77,262.39 L1478.58,262.39 L1479.39,262.39 L1480.20,262.39 L1481.01,262.39 L1481.82,262.39 L1482.63,262.39 L1483.43,262.39 L1484.24,262.39 L1485.05,262.39 L1485.86,262.39 L1486.67,262.39 L1487.48,262.39 L1488.29,262.39 L1489.10,262.39 L1489.91,262.39 L1490.72,262.39 L1491.53,262.39 L1492.34,262.39 L1493.15,262.39 L1493.96,262.39 L1494.77,262.39 L1495.58,262.39 L1496.39,262.39 L1497.20,262.39 L1498.00,262.39 L1498.81,262.39 L1499.62,262.39 L1500.43,262.39 L1501.24,262.39 L1502.05,262.39 L1502.86,262.39"/>
<path stroke="#2ca02c" d="M88.76,524.37 L89.57,524.37 L90.38,524.37 L91.19,524.37 L92.00,524.37 L92.81,524.37 L93.62,524.37 L94.43,524.37 L95.24,524.37 L96.05,524.37 L96.86,524.37 L97.67,524.37 L98.48,524.37 L99.28,524.37 L100.09,524.37 L100.90,524.37 L101.71,524.37 L102.52,524.37 L103.33,524.37 L104.14,524.37 L104.95,524.37 L105.76,524.37 L106.57,524.37 L107.38,524.37 L108.19,524.37 L109.00,524.37 L109.81,524.37 L110.62,524.37 L111.43,524.37 L112.24,524.37 L113.05,524.37 L113.86,524.37 L114.66,524.37 L115.47,524.37 L116.28,524.37 L117.09,524.37 L117.90,524.37 L118.71,524.37 L119.52,524.37 L120.33,524.37 L121.14,524.37 L121.95,524.37 L122.76,524.37 L123.57,524.37 L124.38,524.37 L125.19,524.37 L126.00,524.37 L126.81,524.37 L127.62,524.37 L128.43,524.37 L129.23,524.37 L130.04,524.37 L130.85,524.36 L131.66,524.36 L132.47,524.36 L133.28,524.36 L134.09,524.36 L134.90,524.36 L135.71,524.36 L136.52,524.36 L137.33,524.36 L138.14,524.36 L138.95,524.36 L139.76,524.36 L140.57,524.36 L141.38,524.36 L142.19,524.36 L143.00,524.36 L143.80,524.36 L144.61,524.36 L145.42,524.36 L146.23,524.36 L147.04,524.36 L147.85,524.36 L148.66,524.36 L149.47,524.36 L150.28,524.36 L151.09,524.36 L151.90,524.36 L152.71,524.36 L153.52,524.36 L154.33,524.36 L155.14,524.36 L155.95,524.36 L156.76,524.36 L157.56,524.36 L158.37,524.36 L159.18,524.35 L159.99,524.35 L160.80,524.35 L161.61,524.35 L162.42,524.35 L163.23,524.35 L164.04,524.35 L164.85,524.35 L165.66,524.35 L166.47,524.35 L167.28,524.35 L168.09,524.35 L168.90,524.35 L169.71,524.35 L170.52,524.35 L171.33,524.35 L172.13,524.35 L172.94,524.35 L173.75,524.35 L174.56,524.35 L175.37,524.35 L176.18,524.35 L176.99,524.35 L177.80,524.35 L178.61,524.35 L179.42,524.34 L180.23,524.34 L181.04,524.34 L181.85,524.34 L182.66,524.34 L183.47,524.34 L184.28,524.34 L185.09,524.34 L185.90,524.34 L186.70,524.34 L187.51,524.34 L188.32,524.34 L189.13,524.34 L189.94,524.34 L190.75,524.34 L191.56,524.34 L192.37,524.34 L193.18,524.34 L193.99,524.33 L194.80,524.33 L195.61,524.33 L196.42,524.33 L197.23,524.33 L198.04,524.33 L198.85,524.33 L199.66,524.33 L200.47,524.33 L201.27,524.33 L202.08,524.33 L202.89,524.33 L203.70,524.33 L204.51,524.33 L205.32,524.32 L206.13,524.32 L206.94,524.32 L207.75,524.32 L208.56,524.32 L209.37,524.32 L210.18,524.32 L210.99,524.32 L211.80,524.32 L212.61,524.32 L213.42,524.32 L214.23,524.32 L215.04,524.31 L215.84,524.31 L216.65,524.31 L217.46,524.31 L218.27,524.31 L219.08,524.31 L219.89,524.31 L220.70,524.31 L221.51,524.31 L222.32,524.30 L223.13,524.30 L223.94,524.30 L224.75,524.30 L225.56,524.30 L226.37,524.30 L227.18,524.30 L227.99,524.30 L228.80,524.29 L229.61,524.29 L230.41,524.29 L231.22,524.29 L232.03,524.29 L232.84,524.29 L233.65,524.29 L234.46,524.28 L235.27,524.28 L236.08,524.28 L236.89,524.28 L237.70,524.28 L238.51,524.28 L239.32,524.27 L240.13,524.27 L240.94,524.27 L241.75,524.27 L242.56,524.27 L243.37,524.26 L244.18,524.26 L244.98,524.26 L245.79,524.26 L246.60,524.26 L247.41,524.25 L248.22,524.25 L249.03,524.25 L249.84,524.25 L250.65,524.24 L251.46,524.24 L252.27,524.24 L253.08,524.24 L253.89,524.23 L254.70,524.23 L255.51,524.23 L256.32,524.22 L257.13,524.22 L257.94,524.22 L258.75,524.22 L259.56,524.21 L260.36,524.21 L261.17,524.20 L261.98,524.20 L262.79,524.20 L263.60,524.19 L264.41,524.19 L265.22,524.19 L266.03,524.18 L266.84,524.18 L267.65,524.17 L268.46,524.17 L269.27,524.16 L270.08,524.16 L270.89,524.15 L271.70,524.15 L272.51,524.14 L273.32,524.14 L274.12,524.13 L274.93,524.13 L275.74,524.12 L276.55,524.11 L277.36,524.11 L278.17,524.10 L278.98,524.09 L279.79,524.09 L280.60,524.08 L281.41,524.07 L282.22,524.06 L283.03,524.05 L283.84,524.04 L284.65,524.03 L285.46,524.03 L286.27,524.02 L287.08,524.00 L287.89,523.99 L288.69,523.98 L289.50,523.97 L290.31,523.96 L291.12,523.95 L291.93,523.93 L292.74,523.92 L293.55,523.90 L294.36,523.89 L295.17,523.87 L295.98,523.86 L296.79,523.84 L297.60,523.82 L298.41,523.80 L299.22,523.78 L300.03,523.76 L300.84,523.74 L301.65,523.71 L302.46,523.69 L303.26,523.66 L304.07,523.63 L304.88,523.60 L305.69,523.57 L306.50,523.54 L307.31,523.50 L308.12,523.46 L308.93,523.42 L309.74,523.38 L310.55,523.33 L311.36,523.28 L312.17,523.23 L312.98,523.18 L313.79,523.12 L314.60,523.05 L315.41,522.98 L316.22,522.91 L317.03,522.82 L317.83,522.74 L318.64,522.64 L319.45,522.53 L320.26,522.42 L321.07,522.29 L321.88,522.15 L322.69,521.99 L323.50,521.82 L324.31,521.61 L325.12,521.37 L325.93,521.08 L326.74,520.74 L327.55,520.31 L328.36,519.77 L329.17,519.09 L329.98,518.23 L330.79,517.14 L331.60,515.75 L332.40,514.00 L333.21,511.82 L334.02,509.14 L334.83,505.90 L335.64,502.05 L336.45,497.56 L337.26,492.43 L338.07,486.71 L338.88,480.47 L339.69,473.86 L340.50,467.07 L341.31,460.36 L342.12,454.05 L342.93,448.51 L343.74,444.16 L344.55,441.36 L345.36,440.39 L346.17,441.36 L346.98,444.16 L347.78,448.51 L348.59,454.05 L349.40,460.36 L350.21,467.07 L351.02,473.86 L351.83,480.47 L352.64,486.71 L353.45,492.43 L354.26,497.56 L355.07,502.05 L355.88,505.90 L356.69,509.14 L357.50,511.82 L358.31,514.00 L359.12,515.75 L359.93,517.14 L360.74,518.23 L361.55,519.09 L362.35,519.77 L363.16,520.31 L363.97,520.73 L364.78,521.08 L365.59,521.37 L366.40,521.61 L367.21,521.81 L368.02,521.99 L368.83,522.15 L369.64,522.29 L370.45,522.42 L371.26,522.53 L372.07,522.64 L372.88,522.73 L373.69,522.82 L374.50,522.90 L375.31,522.98 L376.12,523.05 L376.92,523.11 L377.73,523.17 L378.54,523.23 L379.35,523.28 L380.16,523.33 L380.97,523.38 L381.78,523.42 L382.59,523.46 L383.40,523.50 L384.21,523.53 L385.02,523.57 L385.83,523.60 L386.64,523.63 L387.45,523.66 L388.26,523.68 L389.07,523.71 L389.88,523.73 L390.69,523.75 L391.49,523.78 L392.30,523.80 L393.11,523.82 L393.92,523.83 L394.73,523.85 L395.54,523.87 L396.35,523.88 L397.16,523.90 L397.97,523.91 L398.78,523.93 L399.59,523.94 L400.40,523.95 L401.21,523.97 L402.02,523.98 L402.83,523.99 L403.64,524.00 L404.45,524.01 L405.25,524.02 L406.06,524.03 L406.87,524.04 L407.68,524.05 L408.49,524.06 L409.30,524.06 L410.11,524.07 L410.92,524.08 L411.73,524.09 L412.54,524.09 L413.35,524.10 L414.16,524.11 L414.97,524.11 L415.78,524.12 L416.59,524.13 L417.40,524.13 L418.21,524.14 L419.02,524.14 L419.82,524.15 L420.63,524.15 L421.44,524.16 L422.25,524.16 L423.06,524.17 L423.87,524.17 L424.68,524.18 L425.49,524.18 L426.30,524.18 L427.11,524.19 L427.92,524.19 L428.73,524.19 L429.54,524.20 L430.35,524.20 L431.16,524.20 L431.97,524.21 L432.78,524.21 L433.59,524.21 L434.39,524.22 L435.20,524.22 L436.01,524.22 L436.82,524.23 L437.63,524.23 L438.44,524.23 L439.25,524.23 L440.06,524.24 L440.87,524.24 L441.68,524.24 L442.49,524.24 L443.30,524.25 L444.11,524.25 L444.92,524.25 L445.73,524.25 L446.54,524.25 L447.35,524.26 L448.16,524.26 L448.96,524.26 L449.77,524.26 L450.58,524.26 L451.39,524.27 L452.20,524.27 L453.01,524.27 L453.82,524.27 L454.63,524.27 L455.44,524.27 L456.25,524.27 L457.06,524.28 L457.87,524.28 L458.68,524.28 L459.49,524.28 L460.30,524.28 L461.11,524.28 L461.92,524.28 L462.73,524.29 L463.53,524.29 L464.34,524.29 L465.15,524.29 L465.96,524.29 L466.77,524.29 L467.58,524.29 L468.39,524.29 L469.20,524.29 L470.01,524.30 L470.82,524.30 L471.63,524.30 L472.44,524.30 L473.25,524.30 L474.06,524.30 L474.87,524.30 L475.68,524.30 L476.49,524.30 L477.30,524.30 L478.10,524.31 L478.91,524.31 L479.72,524.31 L480.53,524.31 L481.34,524.31 L482.15,524.31 L482.96,524.31 L483.77,524.31 L484.58,524.31 L485.39,524.31 L486.20,524.31 L487.01,524.31 L487.82,524.31 L488.63,524.31 L489.44,524.32 L490.25,524.32 L491.06,524.32 L491.87,524.32 L492.68,524.32 L493.48,524.32 L494.29,524.32 L495.10,524.32 L495.91,524.32 L496.72,524.32 L497.53,524.32 L498.34,524.32 L499.15,524.32 L499.96,524.32 L500.77,524.32 L501.58,524.32 L502.39,524.32 L503.20,524.32 L504.01,524.33 L504.82,524.33 L505.63,524.33 L506.44,524.33 L507.25,524.33 L508.05,524.33 L508.86,524.33 L509.67,524.33 L510.48,524.33 L511.29,524.33 L512.10,524.33 L512.91,524.33 L513.72,524.33 L514.53,524.33 L515.34,524.33 L516.15,524.33 L516.96,524.33 L517.77,524.33 L518.58,524.33 L519.39,524.33 L520.20,524.33 L521.01,524.33 L521.82,524.33 L522.62,524.33 L523.43,524.33 L524.24,524.33 L525.05,524.33 L525.86,524.33 L526.67,524.33 L527.48,524.33 L528.29,524.33 L529.10,524.34 L529.91,524.34 L530.72,524.34 L531.53,524.34 L532.34,524.34 L533.15,524.34 L533.96,524.34 L534.77,524.34 L535.58,524.34 L536.38,524.34 L537.19,524.34 L538.00,524.34 L538.81,524.34 L539.62,524.34 L540.43,524.34 L541.24,524.34 L542.05,524.34 L542.86,524.34 L543.67,524.34 L544.48,524.34 L545.29,524.34 L546.10,524.34 L546.91,524.34 L547.72,524.34 L548.53,524.34 L549.34,524.34 L550.15,524.34 L550.95,524.34 L551.76,524.34 L552.57,524.34 L553.38,524.34 L554.19,524.34 L555.00,524.34 L555.81,524.34 L556.62,524.34 L557.43,524.34 L558.24,524.34 L559.05,524.34 L559.86,524.34 L560.67,524.34 L561.48,524.34 L562.29,524.34 L563.10,524.34 L563.91,524.34 L564.72,524.34 L565.52,524.34 L566.33,524.34 L567.14,524.34 L567.95,524.34 L568.76,524.34 L569.57,524.34 L570.38,524.34 L571.19,524.34 L572.00,524.34 L572.81,524.34 L573.62,524.34 L574.43,524.34 L575.24,524.34 L576.05,524.34 L576.86,524.34 L577.67,524.34 L578.48,524.34 L579.29,524.34 L580.10,524.34 L580.90,524.34 L581.71,524.34 L582.52,524.34 L583.33,524.34 L584.14,524.34 L584.95,524.34 L585.76,524.34 L586.57,524.34 L587.38,524.34 L588.19,524.34 L589.00,524.34 L589.81,524.34 L590.62,524.34 L591.43,524.34 L592.24,524.34 L593.05,524.34 L593.86,524.34 L594.66,524.34 L595.47,524.34 L596.28,524.34 L597.09,524.34 L597.90,524.34 L598.71,524.34 L599.52,524.34 L600.33,524.34 L601.14,524.34 L601.95,524.34 L602.76,524.34 L603.57,524.34 L604.38,524.34 L605.19,524.34 L606.00,524.34 L606.81,524.34 L607.62,524.34 L608.43,524.34 L609.24,524.34 L610.04,524.34 L610.85,524.34 L611.66,524.34 L612.47,524.33 L613.28,524.33 L614.09,524.33 L614.90,524.33 L615.71,524.33 L616.52,524.33 L617.33,524.33 L618.14,524.33 L618.95,524.33 L619.76,524.33 L620.57,524.33 L621.38,524.33 L622.19,524.33 L623.00,524.33 L623.80,524.33 L624.61,524.33 L625.42,524.33 L626.23,524.33 L627.04,524.33 L627.85,524.33 L628.66,524.33 L629.47,524.33 L630.28,524.33 L631.09,524.33 L631.90,524.33 L632.71,524.33 L633.52,524.33 L634.33,524.33 L635.14,524.33 L635.95,524.33 L636.76,524.33 L637.57,524.32 L638.38,524.32 L639.18,524.32 L639.99,524.32 L640.80,524.32 L641.61,524.32 L642.42,524.32 L643.23,524.32 L644.04,524.32 L644.85,524.32 L645.66,524.32 L646.47,524.32 L647.28,524.32 L648.09,524.32 L648.90,524.32 L649.71,524.32 L650.52,524.32 L651.33,524.32 L652.14,524.31 L652.94,524.31 L653.75,524.31 L654.56,524.31 L655.37,524.31 L656.18,524.31 L656.99,524.31 L657.80,524.31 L658.61,524.31 L659.42,524.31 L660.23,524.31 L661.04,524.31 L661.85,524.31 L662.66,524.31 L663.47,524.30 L664.28,524.30 L665.09,524.30 L665.90,524.30 L666.71,524.30 L667.51,524.30 L668.32,524.30 L669.13,524.30 L669.94,524.30 L670.75,524.30 L671.56,524.29 L672.37,524.29 L673.18,524.29 L673.99,524.29 L674.80,524.29 L675.61,524.29 L676.42,524.29 L677.23,524.29 L678.04,524.28 L678.85,524.28 L679.66,524.28 L680.47,524.28 L681.28,524.28 L682.08,524.28 L682.89,524.28 L683.70,524.27 L684.51,524.27 L685.32,524.27 L686.13,524.27 L686.94,524.27 L687.75,524.27 L688.56,524.26 L689.37,524.26 L690.18,524.26 L690.99,524.26 L691.80,524.26 L692.61,524.25 L693.42,524.25 L694.23,524.25 L695.04,524.25 L695.85,524.24 L696.65,524.24 L697.46,524.24 L698.27,524.24 L699.08,524.23 L699.89,524.23 L700.70,524.23 L701.51,524.22 L702.32,524.22 L703.13,524.22 L703.94,524.21 L704.75,524.21 L705.56,524.21 L706.37,524.20 L707.18,524.20 L707.99,524.19 L708.80,524.19 L709.61,524.19 L710.42,524.18 L711.23,524.18 L712.03,524.17 L712.84,524.17 L713.65,524.16 L714.46,524.16 L715.27,524.15 L716.08,524.14 L716.89,524.14 L717.70,524.13 L718.51,524.12 L719.32,524.12 L720.13,524.11 L720.94,524.10 L721.75,524.09 L722.56,524.08 L723.37,524.07 L724.18,524.07 L724.99,524.06 L725.79,524.04 L726.60,524.03 L727.41,524.02 L728.22,524.01 L729.03,524.00 L729.84,523.98 L730.65,523.97 L731.46,523.95 L732.27,523.94 L733.08,523.92 L733.89,523.90 L734.70,523.88 L735.51,523.86 L736.32,523.84 L737.13,523.82 L737.94,523.79 L738.75,523.77 L739.56,523.74 L740.37,523.71 L741.17,523.67 L741.98,523.64 L742.79,523.60 L743.60,523.56 L744.41,523.51 L745.22,523.46 L746.03,523.41 L746.84,523.35 L747.65,523.29 L748.46,523.22 L749.27,523.14 L750.08,523.05 L750.89,522.94 L751.70,522.82 L752.51,522.67 L753.32,522.50 L754.13,522.28 L754.93,522.01 L755.74,521.67 L756.55,521.23 L757.36,520.68 L758.17,519.97 L758.98,519.09 L759.79,517.99 L760.60,516.63 L761.41,514.99 L762.22,513.04 L763.03,510.77 L763.84,508.18 L764.65,505.28 L765.46,502.12 L766.27,498.78 L767.08,495.34 L767.89,491.95 L768.70,488.75 L769.50,485.95 L770.31,483.75 L771.12,482.33 L771.93,481.84 L772.74,482.33 L773.55,483.75 L774.36,485.95 L775.17,488.75 L775.98,491.94 L776.79,495.34 L777.60,498.77 L778.41,502.12 L779.22,505.27 L780.03,508.17 L780.84,510.76 L781.65,513.04 L782.46,514.98 L783.27,516.62 L784.07,517.98 L784.88,519.08 L785.69,519.96 L786.50,520.67 L787.31,521.22 L788.12,521.66 L788.93,522.00 L789.74,522.27 L790.55,522.48 L791.36,522.66 L792.17,522.80 L792.98,522.93 L793.79,523.03 L794.60,523.12 L795.41,523.20 L796.22,523.27 L797.03,523.33 L797.84,523.39 L798.64,523.44 L799.45,523.49 L800.26,523.54 L801.07,523.58 L801.88,523.61 L802.69,523.65 L803.50,523.68 L804.31,523.71 L805.12,523.74 L805.93,523.77 L806.74,523.79 L807.55,523.81 L808.36,523.83 L809.17,523.85 L809.98,523.87 L810.79,523.89 L811.60,523.91 L812.41,523.92 L813.21,523.94 L814.02,523.95 L814.83,523.96 L815.64,523.97 L816.45,523.99 L817.26,524.00 L818.07,524.01 L818.88,524.02 L819.69,524.03 L820.50,524.03 L821.31,524.04 L822.12,524.05 L822.93,524.06 L823.74,524.06 L824.55,524.07 L825.36,524.08 L826.17,524.08 L826.98,524.09 L827.78,524.09 L828.59,524.10 L829.40,524.10 L830.21,524.11 L831.02,524.11 L831.83,524.12 L832.64,524.12 L833.45,524.13 L834.26,524.13 L835.07,524.13 L835.88,524.14 L836.69,524.14 L837.50,524.14 L838.31,524.15 L839.12,524.15 L839.93,524.15 L840.74,524.15 L841.55,524.15 L842.36,524.16 L843.16,524.16 L843.97,524.16 L844.78,524.16 L845.59,524.16 L846.40,524.17 L847.21,524.17 L848.02,524.17 L848.83,524.17 L849.64,524.17 L850.45,524.17 L851.26,524.17 L852.07,524.17 L852.88,524.17 L853.69,524.17 L854.50,524.18 L855.31,524.18 L856.12,524.18 L856.92,524.18 L857.73,524.18 L858.54,524.18 L859.35,524.18 L860.16,524.18 L860.97,524.18 L861.78,524.18 L862.59,524.18 L863.40,524.18 L864.21,524.18 L865.02,524.18 L865.83,524.18 L866.64,524.17 L867.45,524.17 L868.26,524.17 L869.07,524.17 L869.88,524.17 L870.69,524.17 L871.50,524.17 L872.30,524.17 L873.11,524.17 L873.92,524.17 L874.73,524.17 L875.54,524.16 L876.35,524.16 L877.16,524.16 L877.97,524.16 L878.78,524.16 L879.59,524.16 L880.40,524.15 L881.21,524.15 L882.02,524.15 L882.83,524.15 L883.64,524.15 L884.45,524.14 L885.26,524.14 L886.06,524.14 L886.87,524.14 L887.68,524.13 L888.49,524.13 L889.30,524.13 L890.11,524.13 L890.92,524.12 L891.73,524.12 L892.54,524.12 L893.35,524.11 L894.16,524.11 L894.97,524.11 L895.78,524.10 L896.59,524.10 L897.40,524.09 L898.21,524.09 L899.02,524.08 L899.83,524.08 L900.63,524.07 L901.44,524.07 L902.25,524.06 L903.06,524.06 L903.87,524.05 L904.68,524.05 L905.49,524.04 L906.30,524.04 L907.11,524.03 L907.92,524.02 L908.73,524.01 L909.54,524.01 L910.35,524.00 L911.16,523.99 L911.97,523.98 L912.78,523.98 L913.59,523.97 L914.40,523.96 L915.20,523.95 L916.01,523.94 L916.82,523.93 L917.63,523.92 L918.44,523.90 L919.25,523.89 L920.06,523.88 L920.87,523.87 L921.68,523.85 L922.49,523.84 L923.30,523.82 L924.11,523.81 L924.92,523.79 L925.73,523.77 L926.54,523.75 L927.35,523.73 L928.16,523.71 L928.97,523.69 L929.77,523.67 L930.58,523.65 L931.39,523.62 L932.20,523.59 L933.01,523.57 L933.82,523.54 L934.63,523.50 L935.44,523.47 L936.25,523.43 L937.06,523.40 L937.87,523.35 L938.68,523.31 L939.49,523.26 L940.30,523.21 L941.11,523.16 L941.92,523.10 L942.73,523.04 L943.54,522.97 L944.34,522.90 L945.15,522.82 L945.96,522.73 L946.77,522.64 L947.58,522.54 L948.39,522.42 L949.20,522.29 L950.01,522.14 L950.82,521.97 L951.63,521.77 L952.44,521.53 L953.25,521.24 L954.06,520.88 L954.87,520.43 L955.68,519.86 L956.49,519.14 L957.30,518.23 L958.11,517.09 L958.91,515.67 L959.72,513.92 L960.53,511.80 L961.34,509.27 L962.15,506.30 L962.96,502.90 L963.77,499.08 L964.58,494.87 L965.39,490.37 L966.20,485.69 L967.01,480.98 L967.82,476.43 L968.63,472.30 L969.44,468.82 L970.25,466.26 L971.06,464.81 L971.87,464.55 L972.68,465.46 L973.49,467.36 L974.29,470.02 L975.10,473.19 L975.91,476.62 L976.72,480.10 L977.53,483.47 L978.34,486.62 L979.15,489.48 L979.96,492.02 L980.77,494.23 L981.58,496.14 L982.39,497.80 L983.20,499.27 L984.01,500.61 L984.82,501.88 L985.63,503.12 L986.44,504.35 L987.25,505.59 L988.05,506.85 L988.86,508.11 L989.67,509.36 L990.48,510.60 L991.29,511.81 L992.10,512.97 L992.91,514.09 L993.72,515.13 L994.53,516.11 L995.34,517.01 L996.15,517.83 L996.96,518.57 L997.77,519.24 L998.58,519.82 L999.39,520.34 L1000.20,520.78 L1001.01,521.17 L1001.82,521.50 L1002.62,521.79 L1003.43,522.03 L1004.24,522.24 L1005.05,522.41 L1005.86,522.56 L1006.67,522.69 L1007.48,522.80 L1008.29,522.89 L1009.10,522.98 L1009.91,523.05 L1010.72,523.12 L1011.53,523.17 L1012.34,523.23 L1013.15,523.27 L1013.96,523.32 L1014.77,523.36 L1015.58,523.40 L1016.39,523.43 L1017.19,523.46 L1018.00,523.49 L1018.81,523.52 L1019.62,523.55 L1020.43,523.57 L1021.24,523.60 L1022.05,523.62 L1022.86,523.64 L1023.67,523.66 L1024.48,523.68 L1025.29,523.69 L1026.10,523.71 L1026.91,523.73 L1027.72,523.74 L1028.53,523.76 L1029.34,523.77 L1030.15,523.78 L1030.96,523.79 L1031.76,523.80 L1032.57,523.82 L1033.38,523.83 L1034.19,523.84 L1035.00,523.84 L1035.81,523.85 L1036.62,523.86 L1037.43,523.87 L1038.24,523.88 L1039.05,523.88 L1039.86,523.89 L1040.67,523.90 L1041.48,523.90 L1042.29,523.91 L1043.10,523.91 L1043.91,523.92 L1044.72,523.92 L1045.53,523.93 L1046.34,523.93 L1047.14,523.94 L1047.95,523.94 L1048.76,523.94 L1049.57,523.95 L1050.38,523.95 L1051.19,523.95 L1052.00,523.95 L1052.81,523.96 L1053.62,523.96 L1054.43,523.96 L1055.24,523.96 L1056.05,523.96 L1056.86,523.96 L1057.67,523.97 L1058.48,523.97 L1059.29,523.97 L1060.10,523.97 L1060.90,523.97 L1061.71,523.97 L1062.52,523.97 L1063.33,523.97 L1064.14,523.97 L1064.95,523.97 L1065.76,523.97 L1066.57,523.97 L1067.38,523.96 L1068.19,523.96 L1069.00,523.96 L1069.81,523.96 L1070.62,523.96 L1071.43,523.96 L1072.24,523.96 L1073.05,523.95 L1073.86,523.95 L1074.67,523.95 L1075.47,523.95 L1076.28,523.94 L1077.09,523.94 L1077.90,523.94 L1078.71,523.93 L1079.52,523.93 L1080.33,523.93 L1081.14,523.92 L1081.95,523.92 L1082.76,523.92 L1083.57,523.91 L1084.38,523.91 L1085.19,523.90 L1086.00,523.90 L1086.81,523.89 L1087.62,523.89 L1088.43,523.88 L1089.24,523.87 L1090.05,523.87 L1090.85,523.86 L1091.66,523.85 L1092.47,523.85 L1093.28,523.84 L1094.09,523.83 L1094.90,523.82 L1095.71,523.82 L1096.52,523.81 L1097.33,523.80 L1098.14,523.79 L1098.95,523.78 L1099.76,523.77 L1100.57,523.76 L1101.38,523.75 L1102.19,523.74 L1103.00,523.73 L1103.81,523.72 L1104.62,523.70 L1105.42,523.69 L1106.23,523.68 L1107.04,523.66 L1107.85,523.65 L1108.66,523.64 L1109.47,523.62 L1110.28,523.60 L1111.09,523.59 L1111.90,523.57 L1112.71,523.55 L1113.52,523.53 L1114.33,523.51 L1115.14,523.49 L1115.95,523.47 L1116.76,523.45 L1117.57,523.43 L1118.38,523.40 L1119.18,523.38 L1119.99,523.35 L1120.80,523.32 L1121.61,523.30 L1122.42,523.27 L1123.23,523.24 L1124.04,523.20 L1124.85,523.17 L1125.66,523.13 L1126.47,523.09 L1127.28,523.05 L1128.09,523.01 L1128.90,522.97 L1129.71,522.92 L1130.52,522.88 L1131.33,522.82 L1132.14,522.77 L1132.95,522.71 L1133.75,522.65 L1134.56,522.59 L1135.37,522.52 L1136.18,522.45 L1136.99,522.38 L1137.80,522.30 L1138.61,522.21 L1139.42,522.12 L1140.23,522.03 L1141.04,521.93 L1141.85,521.82 L1142.66,521.70 L1143.47,521.57 L1144.28,521.44 L1145.09,521.30 L1145.90,521.14 L1146.71,520.98 L1147.52,520.80 L1148.33,520.60 L1149.13,520.39 L1149.94,520.16 L1150.75,519.91 L1151.56,519.63 L1152.37,519.33 L1153.18,518.99 L1153.99,518.62 L1154.80,518.19 L1155.61,517.70 L1156.42,517.12 L1157.23,516.44 L1158.04,515.61 L1158.85,514.58 L1159.66,513.30 L1160.47,511.68 L1161.28,509.62 L1162.09,507.00 L1162.89,503.67 L1163.70,499.48 L1164.51,494.27 L1165.32,487.86 L1166.13,480.10 L1166.94,470.88 L1167.75,460.13 L1168.56,447.86 L1169.37,434.15 L1170.18,419.22 L1170.99,403.39 L1171.80,387.14 L1172.61,371.07 L1173.42,355.96 L1174.23,342.71 L1175.04,332.28 L1175.85,325.58 L1176.66,323.26 L1177.46,325.58 L1178.27,332.28 L1179.08,342.71 L1179.89,355.96 L1180.70,371.07 L1181.51,387.14 L1182.32,403.39 L1183.13,419.22 L1183.94,434.15 L1184.75,447.86 L1185.56,460.14 L1186.37,470.89 L1187.18,480.11 L1187.99,487.87 L1188.80,494.28 L1189.61,499.49 L1190.42,503.68 L1191.23,507.01 L1192.03,509.63 L1192.84,511.69 L1193.65,513.31 L1194.46,514.59 L1195.27,515.62 L1196.08,516.45 L1196.89,517.14 L1197.70,517.71 L1198.51,518.21 L1199.32,518.63 L1200.13,519.01 L1200.94,519.35 L1201.75,519.65 L1202.56,519.93 L1203.37,520.18 L1204.18,520.41 L1204.99,520.62 L1205.80,520.82 L1206.61,521.00 L1207.41,521.16 L1208.22,521.32 L1209.03,521.46 L1209.84,521.60 L1210.65,521.73 L1211.46,521.84 L1212.27,521.95 L1213.08,522.06 L1213.89,522.15 L1214.70,522.24 L1215.51,522.33 L1216.32,522.41 L1217.13,522.48 L1217.94,522.56 L1218.75,522.62 L1219.56,522.69 L1220.37,522.75 L1221.17,522.81 L1221.98,522.86 L1222.79,522.91 L1223.60,522.96 L1224.41,523.01 L1225.22,523.05 L1226.03,523.09 L1226.84,523.13 L1227.65,523.17 L1228.46,523.21 L1229.27,523.25 L1230.08,523.28 L1230.89,523.31 L1231.70,523.34 L1232.51,523.37 L1233.32,523.40 L1234.13,523.43 L1234.94,523.45 L1235.74,523.48 L1236.55,523.50 L1237.36,523.52 L1238.17,523.55 L1238.98,523.57 L1239.79,523.59 L1240.60,523.61 L1241.41,523.63 L1242.22,523.65 L1243.03,523.66 L1243.84,523.68 L1244.65,523.70 L1245.46,523.71 L1246.27,523.73 L1247.08,523.74 L1247.89,523.76 L1248.70,523.77 L1249.51,523.78 L1250.32,523.80 L1251.12,523.81 L1251.93,523.82 L1252.74,523.83 L1253.55,523.85 L1254.36,523.86 L1255.17,523.87 L1255.98,523.88 L1256.79,523.89 L1257.60,523.90 L1258.41,523.91 L1259.22,523.92 L1260.03,523.92 L1260.84,523.93 L1261.65,523.94 L1262.46,523.95 L1263.27,523.96 L1264.08,523.97 L1264.88,523.97 L1265.69,523.98 L1266.50,523.99 L1267.31,524.00 L1268.12,524.00 L1268.93,524.01 L1269.74,524.02 L1270.55,524.02 L1271.36,524.03 L1272.17,524.03 L1272.98,524.04 L1273.79,524.05 L1274.60,524.05 L1275.41,524.06 L1276.22,524.06 L1277.03,524.07 L1277.84,524.07 L1278.65,524.08 L1279.45,524.08 L1280.26,524.09 L1281.07,524.09 L1281.88,524.10 L1282.69,524.10 L1283.50,524.10 L1284.31,524.11 L1285.12,524.11 L1285.93,524.12 L1286.74,524.12 L1287.55,524.12 L1288.36,524.13 L1289.17,524.13 L1289.98,524.14 L1290.79,524.14 L1291.60,524.14 L1292.41,524.15 L1293.22,524.15 L1294.02,524.15 L1294.83,524.16 L1295.64,524.16 L1296.45,524.16 L1297.26,524.17 L1298.07,524.17 L1298.88,524.17 L1299.69,524.17 L1300.50,524.18 L1301.31,524.18 L1302.12,524.18 L1302.93,524.19 L1303.74,524.19 L1304.55,524.19 L1305.36,524.19 L1306.17,524.20 L1306.98,524.20 L1307.79,524.20 L1308.60,524.20 L1309.40,524.20 L1310.21,524.21 L1311.02,524.21 L1311.83,524.21 L1312.64,524.21 L1313.45,524.22 L1314.26,524.22 L1315.07,524.22 L1315.88,524.22 L1316.69,524.22 L1317.50,524.23 L1318.31,524.23 L1319.12,524.23 L1319.93,524.23 L1320.74,524.23 L1321.55,524.23 L1322.36,524.24 L1323.16,524.24 L1323.97,524.24 L1324.78,524.24 L1325.59,524.24 L1326.40,524.24 L1327.21,524.25 L1328.02,524.25 L1328.83,524.25 L1329.64,524.25 L1330.45,524.25 L1331.26,524.25 L1332.07,524.25 L1332.88,524.26 L1333.69,524.26 L1334.50,524.26 L1335.31,524.26 L1336.12,524.26 L1336.93,524.26 L1337.73,524.26 L1338.54,524.27 L1339.35,524.27 L1340.16,524.27 L1340.97,524.27 L1341.78,524.27 L1342.59,524.27 L1343.40,524.27 L1344.21,524.27 L1345.02,524.27 L1345.83,524.28 L1346.64,524.28 L1347.45,524.28 L1348.26,524.28 L1349.07,524.28 L1349.88,524.28 L1350.69,524.28 L1351.50,524.28 L1352.30,524.28 L1353.11,524.29 L1353.92,524.29 L1354.73,524.29 L1355.54,524.29 L1356.35,524.29 L1357.16,524.29 L1357.97,524.29 L1358.78,524.29 L1359.59,524.29 L1360.40,524.29 L1361.21,524.29 L1362.02,524.30 L1362.83,524.30 L1363.64,524.30 L1364.45,524.30 L1365.26,524.30 L1366.07,524.30 L1366.88,524.30 L1367.68,524.30 L1368.49,524.30 L1369.30,524.30 L1370.11,524.30 L1370.92,524.30 L1371.73,524.30 L1372.54,524.31 L1373.35,524.31 L1374.16,524.31 L1374.97,524.31 L1375.78,524.31 L1376.59,524.31 L1377.40,524.31 L1378.21,524.31 L1379.02,524.31 L1379.83,524.31 L1380.64,524.31 L1381.44,524.31 L1382.25,524.31 L1383.06,524.31 L1383.87,524.32 L1384.68,524.32 L1385.49,524.32 L1386.30,524.32 L1387.11,524.32 L1387.92,524.32 L1388.73,524.32 L1389.54,524.32 L1390.35,524.32 L1391.16,524.32 L1391.97,524.32 L1392.78,524.32 L1393.59,524.32 L1394.40,524.32 L1395.21,524.32 L1396.01,524.32 L1396.82,524.32 L1397.63,524.32 L1398.44,524.33 L1399.25,524.33 L1400.06,524.33 L1400.87,524.33 L1401.68,524.33 L1402.49,524.33 L1403.30,524.33 L1404.11,524.33 L1404.92,524.33 L1405.73,524.33 L1406.54,524.33 L1407.35,524.33 L1408.16,524.33 L1408.97,524.33 L1409.78,524.33 L1410.59,524.33 L1411.39,524.33 L1412.20,524.33 L1413.01,524.33 L1413.82,524.33 L1414.63,524.33 L1415.44,524.33 L1416.25,524.34 L1417.06,524.34 L1417.87,524.34 L1418.68,524.34 L1419.49,524.34 L1420.30,524.34 L1421.11,524.34 L1421.92,524.34 L1422.73,524.34 L1423.54,524.34 L1424.35,524.34 L1425.15,524.34 L1425.96,524.34 L1426.77,524.34 L1427.58,524.34 L1428.39,524.34 L1429.20,524.34 L1430.01,524.34 L1430.82,524.34 L1431.63,524.34 L1432.44,524.34 L1433.25,524.34 L1434.06,524.34 L1434.87,524.34 L1435.68,524.34 L1436.49,524.34 L1437.30,524.34 L1438.11,524.34 L1438.92,524.35 L1439.72,524.35 L1440.53,524.35 L1441.34,524.35 L1442.15,524.35 L1442.96,524.35 L1443.77,524.35 L1444.58,524.35 L1445.39,524.35 L1446.20,524.35 L1447.01,524.35 L1447.82,524.35 L1448.63,524.35 L1449.44,524.35 L1450.25,524.35 L1451.06,524.35 L1451.87,524.35 L1452.68,524.35 L1453.49,524.35 L1454.29,524.35 L1455.10,524.35 L1455.91,524.35 L1456.72,524.35 L1457.53,524.35 L1458.34,524.35 L1459.15,524.35 L1459.96,524.35 L1460.77,524.35 L1461.58,524.35 L1462.39,524.35 L1463.20,524.35 L1464.01,524.35 L1464.82,524.35 L1465.63,524.35 L1466.44,524.35 L1467.25,524.35 L1468.06,524.35 L1468.87,524.35 L1469.67,524.36 L1470.48,524.36 L1471.29,524.36 L1472.10,524.36 L1472.91,524.36 L1473.72,524.36 L1474.53,524.36 L1475.34,524.36 L1476.15,524.36 L1476.96,524.36 L1477.77,524.36 L1478.58,524.36 L1479.39,524.36 L1480.20,524.36 L1481.01,524.36 L1481.82,524.36 L1482.63,524.36 L1483.43,524.36 L1484.24,524.36 L1485.05,524.36 L1485.86,524.36 L1486.67,524.36 L1487.48,524.36 L1488.29,524.36 L1489.10,524.36 L1489.91,524.36 L1490.72,524.36 L1491.53,524.36 L1492.34,524.36 L1493.15,524.36 L1493.96,524.36 L1494.77,524.36 L1495.58,524.36 L1496.39,524.36 L1497.20,524.36 L1498.00,524.36 L1498.81,524.36 L1499.62,524.36 L1500.43,524.36 L1501.24,524.36 L1502.05,524.36 L1502.86,524.36"/>
<path stroke="#ff7f0e" d="M88.76,786.39 L89.57,786.39 L90.38,786.39 L91.19,786.39 L92.00,786.39 L92.81,786.39 L93.62,786.39 L94.43,786.39 L95.24,786.39 L96.05,786.39 L96.86,786.40 L97.67,786.40 L98.48,786.40 L99.28,786.40 L100.09,786.40 L100.90,786.40 L101.71,786.40 L102.52,786.40 L103.33,786.40 L104.14,786.40 L104.95,786.40 L105.76,786.40 L106.57,786.40 L107.38,786.40 L108.19,786.40 L109.00,786.40 L109.81,786.40 L110.62,786.40 L111.43,786.41 L112.24,786.41 L113.05,786.41 L113.86,786.41 L114.66,786.41 L115.47,786.41 L116.28,786.41 L117.09,786.41 L117.90,786.41 L118.71,786.41 L119.52,786.41 L120.33,786.41 L121.14,786.41 L121.95,786.41 L122.76,786.41 L123.57,786.41 L124.38,786.41 L125.19,786.41 L126.00,786.41 L126.81,786.42 L127.62,786.42 L128.43,786.42 L129.23,786.42 L130.04,786.42 L130.85,786.42 L131.66,786.42 L132.47,786.42 L133.28,786.42 L134.09,786.42 L134.90,786.42 L135.71,786.42 L136.52,786.42 L137.33,786.42 L138.14,786.42 L138.95,786.42 L139.76,786.42 L140.57,786.42 L141.38,786.42 L142.19,786.43 L143.00,786.43 L143.80,786.43 L144.61,786.43 L145.42,786.43 L146.23,786.43 L147.04,786.43 L147.85,786.43 L148.66,786.43 L149.47,786.43 L150.28,786.43 L151.09,786.43 L151.90,786.43 L152.71,786.43 L153.52,786.43 L154.33,786.43 L155.14,786.43 L155.95,786.43 L156.76,786.44 L157.56,786.44 L158.37,786.44 L159.18,786.44 L159.99,786.44 L160.80,786.44 L161.61,786.44 L162.42,786.44 L163.23,786.44 L164.04,786.44 L164.85,786.44 L165.66,786.44 L166.47,786.44 L167.28,786.44 L168.09,786.44 L168.90,786.44 L169.71,786.44 L170.52,786.44 L171.33,786.44 L172.13,786.45 L172.94,786.45 L173.75,786.45 L174.56,786.45 L175.37,786.45 L176.18,786.45 L176.99,786.45 L177.80,786.45 L178.61,786.45 L179.42,786.45 L180.23,786.45 L181.04,786.45 L181.85,786.45 L182.66,786.45 L183.47,786.45 L184.28,786.45 L185.09,786.45 L185.90,786.45 L186.70,786.45 L187.51,786.46 L188.32,786.46 L189.13,786.46 L189.94,786.46 L190.75,786.46 L191.56,786.46 L192.37,786.46 L193.18,786.46 L193.99,786.46 L194.80,786.46 L195.61,786.46 L196.42,786.46 L197.23,786.46 L198.04,786.46 L198.85,786.46 L199.66,786.46 L200.47,786.46 L201.27,786.46 L202.08,786.46 L202.89,786.47 L203.70,786.47 L204.51,786.47 L205.32,786.47 L206.13,786.47 L206.94,786.47 L207.75,786.47 L208.56,786.47 L209.37,786.47 L210.18,786.47 L210.99,786.47 L211.80,786.47 L212.61,786.47 L213.42,786.47 L214.23,786.47 L215.04,786.47 L215.84,786.47 L216.65,786.47 L217.46,786.47 L218.27,786.47 L219.08,786.48 L219.89,786.48 L220.70,786.48 L221.51,786.48 L222.32,786.48 L223.13,786.48 L223.94,786.48 L224.75,786.48 L225.56,786.48 L226.37,786.48 L227.18,786.48 L227.99,786.48 L228.80,786.48 L229.61,786.48 L230.41,786.48 L231.22,786.48 L232.03,786.48 L232.84,786.48 L233.65,786.48 L234.46,786.49 L235.27,786.49 L236.08,786.49 L236.89,786.49 L237.70,786.49 L238.51,786.49 L239.32,786.49 L240.13,786.49 L240.94,786.49 L241.75,786.49 L242.56,786.49 L243.37,786.49 L244.18,786.49 L244.98,786.49 L245.79,786.49 L246.60,786.49 L247.41,786.49 L248.22,786.49 L249.03,786.49 L249.84,786.49 L250.65,786.49 L251.46,786.50 L252.27,786.50 L253.08,786.50 L253.89,786.50 L254.70,786.50 L255.51,786.50 L256.32,786.50 L257.13,786.50 L257.94,786.50 L258.75,786.50 L259.56,786.50 L260.36,786.50 L261.17,786.50 L261.98,786.50 L262.79,786.50 L263.60,786.50 L264.41,786.50 L265.22,786.50 L266.03,786.50 L266.84,786.50 L267.65,786.50 L268.46,786.50 L269.27,786.50 L270.08,786.51 L270.89,786.51 L271.70,786.51 L272.51,786.51 L273.32,786.51 L274.12,786.51 L274.93,786.51 L275.74,786.51 L276.55,786.51 L277.36,786.51 L278.17,786.51 L278.98,786.51 L279.79,786.51 L280.60,786.51 L281.41,786.51 L282.22,786.51 L283.03,786.51 L283.84,786.51 L284.65,786.51 L285.46,786.51 L286.27,786.51 L287.08,786.51 L287.89,786.51 L288.69,786.51 L289.50,786.51 L290.31,786.51 L291.12,786.51 L291.93,786.51 L292.74,786.51 L293.55,786.51 L294.36,786.51 L295.17,786.51 L295.98,786.51 L296.79,786.51 L297.60,786.51 L298.41,786.51 L299.22,786.51 L300.03,786.51 L300.84,786.51 L301.65,786.51 L302.46,786.50 L303.26,786.50 L304.07,786.50 L304.88,786.50 L305.69,786.50 L306.50,786.49 L307.31,786.49 L308.12,786.49 L308.93,786.48 L309.74,786.47 L310.55,786.46 L311.36,786.45 L312.17,786.43 L312.98,786.41 L313.79,786.39 L314.60,786.36 L315.41,786.32 L316.22,786.27 L317.03,786.22 L317.83,786.16 L318.64,786.09 L319.45,786.02 L320.26,785.94 L321.07,785.86 L321.88,785.78 L322.69,785.71 L323.50,785.64 L324.31,785.59 L325.12,785.56 L325.93,785.55 L326.74,785.56 L327.55,785.59 L328.36,785.64 L329.17,785.71 L329.98,785.79 L330.79,785.87 L331.60,785.95 L332.40,786.03 L333.21,786.10 L334.02,786.17 L334.83,786.23 L335.64,786.29 L336.45,786.33 L337.26,786.37 L338.07,786.40 L338.88,786.43 L339.69,786.45 L340.50,786.47 L341.31,786.48 L342.12,786.49 L342.93,786.50 L343.74,786.51 L344.55,786.51 L345.36,786.52 L346.17,786.52 L346.98,786.53 L347.78,786.53 L348.59,786.53 L349.40,786.53 L350.21,786.54 L351.02,786.54 L351.83,786.54 L352.64,786.54 L353.45,786.54 L354.26,786.55 L355.07,786.55 L355.88,786.55 L356.69,786.55 L357.50,786.55 L358.31,786.55 L359.12,786.55 L359.93,786.55 L360.74,786.56 L361.55,786.56 L362.35,786.56 L363.16,786.56 L363.97,786.56 L364.78,786.56 L365.59,786.56 L366.40,786.56 L367.21,786.56 L368.02,786.56 L368.83,786.57 L369.64,786.57 L370.45,786.57 L371.26,786.57 L372.07,786.57 L372.88,786.57 L373.69,786.57 L374.50,786.57 L375.31,786.57 L376.12,786.57 L376.92,786.57 L377.73,786.57 L378.54,786.57 L379.35,786.57 L380.16,786.58 L380.97,786.58 L381.78,786.58 L382.59,786.58 L383.40,786.58 L384.21,786.58 L385.02,786.58 L385.83,786.58 L386.64,786.58 L387.45,786.58 L388.26,786.58 L389.07,786.58 L389.88,786.58 L390.69,786.58 L391.49,786.58 L392.30,786.58 L393.11,786.59 L393.92,786.59 L394.73,786.59 L395.54,786.59 L396.35,786.59 L397.16,786.59 L397.97,786.59 L398.78,786.59 L399.59,786.59 L400.40,786.59 L401.21,786.59 L402.02,786.59 L402.83,786.59 L403.64,786.59 L404.45,786.59 L405.25,786.59 L406.06,786.59 L406.87,786.59 L407.68,786.60 L408.49,786.60 L409.30,786.60 L410.11,786.60 L410.92,786.60 L411.73,786.60 L412.54,786.60 L413.35,786.60 L414.16,786.60 L414.97,786.60 L415.78,786.60 L416.59,786.60 L417.40,786.60 L418.21,786.60 L419.02,786.60 L419.82,786.60 L420.63,786.60 L421.44,786.60 L422.25,786.60 L423.06,786.61 L423.87,786.61 L424.68,786.61 L425.49,786.61 L426.30,786.61 L427.11,786.61 L427.92,786.61 L428.73,786.61 L429.54,786.61 L430.35,786.61 L431.16,786.61 L431.97,786.61 L432.78,786.61 L433.59,786.61 L434.39,786.61 L435.20,786.61 L436.01,786.61 L436.82,786.61 L437.63,786.61 L438.44,786.61 L439.25,786.62 L440.06,786.62 L440.87,786.62 L441.68,786.62 L442.49,786.62 L443.30,786.62 L444.11,786.62 L444.92,786.62 L445.73,786.62 L446.54,786.62 L447.35,786.62 L448.16,786.62 L448.96,786.62 L449.77,786.62 L450.58,786.62 L451.39,786.62 L452.20,786.62 L453.01,786.62 L453.82,786.62 L454.63,786.62 L455.44,786.63 L456.25,786.63 L457.06,786.63 L457.87,786.63 L458.68,786.63 L459.49,786.63 L460.30,786.63 L461.11,786.63 L461.92,786.63 L462.73,786.63 L463.53,786.63 L464.34,786.63 L465.15,786.63 L465.96,786.63 L466.77,786.63 L467.58,786.63 L468.39,786.63 L469.20,786.63 L470.01,786.63 L470.82,786.63 L471.63,786.63 L472.44,786.64 L473.25,786.64 L474.06,786.64 L474.87,786.64 L475.68,786.64 L476.49,786.64 L477.30,786.64 L478.10,786.64 L478.91,786.64 L479.72,786.64 L480.53,786.64 L481.34,786.64 L482.15,786.64 L482.96,786.64 L483.77,786.64 L484.58,786.64 L485.39,786.64 L486.20,786.64 L487.01,786.64 L487.82,786.64 L488.63,786.64 L489.44,786.65 L490.25,786.65 L491.06,786.65 L491.87,786.65 L492.68,786.65 L493.48,786.65 L494.29,786.65 L495.10,786.65 L495.91,786.65 L496.72,786.65 L497.53,786.65 L498.34,786.65 L499.15,786.65 L499.96,786.65 L500.77,786.65 L501.58,786.65 L502.39,786.65 L503.20,786.65 L504.01,786.65 L504.82,786.65 L505.63,786.65 L506.44,786.65 L507.25,786.65 L508.05,786.66 L508.86,786.66 L509.67,786.66 L510.48,786.66 L511.29,786.66 L512.10,786.66 L512.91,786.66 L513.72,786.66 L514.53,786.66 L515.34,786.66 L516.15,786.66 L516.96,786.66 L517.77,786.66 L518.58,786.66 L519.39,786.66 L520.20,786.66 L521.01,786.66 L521.82,786.66 L522.62,786.66 L523.43,786.66 L524.24,786.66 L525.05,786.66 L525.86,786.66 L526.67,786.67 L527.48,786.67 L528.29,786.67 L529.10,786.67 L529.91,786.67 L530.72,786.67 L531.53,786.67 L532.34,786.67 L533.15,786.67 L533.96,786.67 L534.77,786.67 L535.58,786.67 L536.38,786.67 L537.19,786.67 L538.00,786.67 L538.81,786.67 L539.62,786.67 L540.43,786.67 L541.24,786.67 L542.05,786.67 L542.86,786.67 L543.67,786.67 L544.48,786.67 L545.29,786.67 L546.10,786.68 L546.91,786.68 L547.72,786.68 L548.53,786.68 L549.34,786.68 L550.15,786.68 L550.95,786.68 L551.76,786.68 L552.57,786.68 L553.38,786.68 L554.19,786.68 L555.00,786.68 L555.81,786.68 L556.62,786.68 L557.43,786.68 L558.24,786.68 L559.05,786.68 L559.86,786.68 L560.67,786.68 L561.48,786.68 L562.29,786.68 L563.10,786.68 L563.91,786.68 L564.72,786.68 L565.52,786.68 L566.33,786.68 L567.14,786.68 L567.95,786.69 L568.76,786.69 L569.57,786.69 L570.38,786.69 L571.19,786.69 L572.00,786.69 L572.81,786.69 L573.62,786.69 L574.43,786.69 L575.24,786.69 L576.05,786.69 L576.86,786.69 L577.67,786.69 L578.48,786.69 L579.29,786.69 L580.10,786.69 L580.90,786.69 L581.71,786.69 L582.52,786.69 L583.33,786.69 L584.14,786.69 L584.95,786.69 L585.76,786.69 L586.57,786.69 L587.38,786.69 L588.19,786.69 L589.00,786.69 L589.81,786.69 L590.62,786.69 L591.43,786.69 L592.24,786.70 L593.05,786.70 L593.86,786.70 L594.66,786.70 L595.47,786.70 L596.28,786.70 L597.09,786.70 L597.90,786.70 L598.71,786.70 L599.52,786.70 L600.33,786.70 L601.14,786.70 L601.95,786.70 L602.76,786.70 L603.57,786.70 L604.38,786.70 L605.19,786.70 L606.00,786.70 L606.81,786.70 L607.62,786.70 L608.43,786.70 L609.24,786.70 L610.04,786.70 L610.85,786.70 L611.66,786.70 L612.47,786.70 L613.28,786.70 L614.09,786.70 L614.90,786.70 L615.71,786.70 L616.52,786.70 L617.33,786.70 L618.14,786.70 L618.95,786.70 L619.76,786.70 L620.57,786.70 L621.38,786.70 L622.19,786.70 L623.00,786.70 L623.80,786.71 L624.61,786.71 L625.42,786.71 L626.23,786.71 L627.04,786.71 L627.85,786.71 L628.66,786.71 L629.47,786.71 L630.28,786.71 L631.09,786.71 L631.90,786.71 L632.71,786.71 L633.52,786.71 L634.33,786.71 L635.14,786.71 L635.95,786.71 L636.76,786.71 L637.57,786.71 L638.38,786.71 L639.18,786.71 L639.99,786.71 L640.80,786.71 L641.61,786.71 L642.42,786.71 L643.23,786.71 L644.04,786.71 L644.85,786.71 L645.66,786.71 L646.47,786.71 L647.28,786.71 L648.09,786.71 L648.90,786.71 L649.71,786.71 L650.52,786.71 L651.33,786.71 L652.14,786.71 L652.94,786.71 L653.75,786.71 L654.56,786.71 L655.37,786.71 L656.18,786.71 L656.99,786.71 L657.80,786.71 L658.61,786.71 L659.42,786.71 L660.23,786.71 L661.04,786.71 L661.85,786.71 L662.66,786.71 L663.47,786.71 L664.28,786.71 L665.09,786.71 L665.90,786.71 L666.71,786.71 L667.51,786.71 L668.32,786.71 L669.13,786.71 L669.94,786.71 L670.75,786.71 L671.56,786.71 L672.37,786.71 L673.18,786.71 L673.99,786.71 L674.80,786.71 L675.61,786.71 L676.42,786.71 L677.23,786.71 L678.04,786.71 L678.85,786.71 L679.66,786.71 L680.47,786.71 L681.28,786.71 L682.08,786.71 L682.89,786.71 L683.70,786.71 L684.51,786.71 L685.32,786.71 L686.13,786.70 L686.94,786.70 L687.75,786.70 L688.56,786.70 L689.37,786.70 L690.18,786.70 L690.99,786.70 L691.80,786.70 L692.61,786.70 L693.42,786.70 L694.23,786.70 L695.04,786.70 L695.85,786.70 L696.65,786.70 L697.46,786.70 L698.27,786.70 L699.08,786.70 L699.89,786.70 L700.70,786.70 L701.51,786.70 L702.32,786.70 L703.13,786.70 L703.94,786.70 L704.75,786.69 L705.56,786.69 L706.37,786.69 L707.18,786.69 L707.99,786.69 L708.80,786.69 L709.61,786.69 L710.42,786.69 L711.23,786.69 L712.03,786.69 L712.84,786.69 L713.65,786.69 L714.46,786.69 L715.27,786.68 L716.08,786.68 L716.89,786.68 L717.70,786.68 L718.51,786.68 L719.32,786.68 L720.13,786.68 L720.94,786.68 L721.75,786.68 L722.56,786.68 L723.37,786.67 L724.18,786.67 L724.99,786.67 L725.79,786.67 L726.60,786.67 L727.41,786.67 L728.22,786.67 L729.03,786.67 L729.84,786.66 L730.65,786.66 L731.46,786.66 L732.27,786.66 L733.08,786.66 L733.89,786.66 L734.70,786.66 L735.51,786.65 L736.32,786.65 L737.13,786.65 L737.94,786.65 L738.75,786.65 L739.56,786.65 L740.37,786.64 L741.17,786.64 L741.98,786.64 L742.79,786.64 L743.60,786.64 L744.41,786.63 L745.22,786.63 L746.03,786.63 L746.84,786.63 L747.65,786.62 L748.46,786.62 L749.27,786.62 L750.08,786.62 L750.89,786.61 L751.70,786.61 L752.51,786.61 L753.32,786.61 L754.13,786.60 L754.93,786.60 L755.74,786.60 L756.55,786.59 L757.36,786.59 L758.17,786.59 L758.98,786.58 L759.79,786.58 L760.60,786.58 L761.41,786.57 L762.22,786.57 L763.03,786.56 L763.84,786.56 L764.65,786.56 L765.46,786.55 L766.27,786.55 L767.08,786.54 L767.89,786.54 L768.70,786.53 L769.50,786.53 L770.31,786.52 L771.12,786.52 L771.93,786.51 L772.74,786.51 L773.55,786.50 L774.36,786.50 L775.17,786.49 L775.98,786.48 L776.79,786.48 L777.60,786.47 L778.41,786.46 L779.22,786.46 L780.03,786.45 L780.84,786.44 L781.65,786.43 L782.46,786.43 L783.27,786.42 L784.07,786.41 L784.88,786.40 L785.69,786.39 L786.50,786.38 L787.31,786.37 L788.12,786.36 L788.93,786.35 L789.74,786.34 L790.55,786.33 L791.36,786.32 L792.17,786.31 L792.98,786.29 L793.79,786.28 L794.60,786.27 L795.41,786.25 L796.22,786.24 L797.03,786.22 L797.84,786.21 L798.64,786.19 L799.45,786.17 L800.26,786.16 L801.07,786.14 L801.88,786.12 L802.69,786.10 L803.50,786.08 L804.31,786.06 L805.12,786.04 L805.93,786.01 L806.74,785.99 L807.55,785.96 L808.36,785.93 L809.17,785.91 L809.98,785.88 L810.79,785.85 L811.60,785.81 L812.41,785.78 L813.21,785.74 L814.02,785.71 L814.83,785.67 L815.64,785.62 L816.45,785.58 L817.26,785.53 L818.07,785.49 L818.88,785.43 L819.69,785.38 L820.50,785.32 L821.31,785.26 L822.12,785.19 L822.93,785.13 L823.74,785.05 L824.55,784.97 L825.36,784.89 L826.17,784.80 L826.98,784.71 L827.78,784.60 L828.59,784.49 L829.40,784.38 L830.21,784.25 L831.02,784.11 L831.83,783.97 L832.64,783.81 L833.45,783.64 L834.26,783.45 L835.07,783.24 L835.88,783.02 L836.69,782.77 L837.50,782.50 L838.31,782.19 L839.12,781.84 L839.93,781.44 L840.74,780.97 L841.55,780.41 L842.36,779.73 L843.16,778.90 L843.97,777.85 L844.78,776.53 L845.59,774.85 L846.40,772.71 L847.21,770.00 L848.02,766.59 L848.83,762.33 L849.64,757.11 L850.45,750.78 L851.26,743.26 L852.07,734.50 L852.88,724.48 L853.69,713.31 L854.50,701.13 L855.31,688.22 L856.12,674.97 L856.92,661.86 L857.73,649.54 L858.54,638.73 L859.35,630.23 L860.16,624.76 L860.97,622.87 L861.78,624.76 L862.59,630.23 L863.40,638.74 L864.21,649.54 L865.02,661.87 L865.83,674.97 L866.64,688.22 L867.45,701.13 L868.26,713.31 L869.07,724.49 L869.88,734.50 L870.69,743.27 L871.50,750.79 L872.30,757.11 L873.11,762.34 L873.92,766.59 L874.73,770.01 L875.54,772.72 L876.35,774.86 L877.16,776.54 L877.97,777.86 L878.78,778.91 L879.59,779.74 L880.40,780.42 L881.21,780.98 L882.02,781.45 L882.83,781.85 L883.64,782.20 L884.45,782.51 L885.26,782.78 L886.06,783.03 L886.87,783.26 L887.68,783.46 L888.49,783.65 L889.30,783.82 L890.11,783.98 L890.92,784.13 L891.73,784.26 L892.54,784.39 L893.35,784.51 L894.16,784.62 L894.97,784.72 L895.78,784.82 L896.59,784.91 L897.40,784.99 L898.21,785.07 L899.02,785.14 L899.83,785.21 L900.63,785.28 L901.44,785.34 L902.25,785.40 L903.06,785.45 L903.87,785.50 L904.68,785.55 L905.49,785.60 L906.30,785.64 L907.11,785.69 L907.92,785.73 L908.73,785.76 L909.54,785.80 L910.35,785.83 L911.16,785.87 L911.97,785.90 L912.78,785.93 L913.59,785.96 L914.40,785.98 L915.20,786.01 L916.01,786.03 L916.82,786.06 L917.63,786.08 L918.44,786.10 L919.25,786.12 L920.06,786.14 L920.87,786.16 L921.68,786.18 L922.49,786.20 L923.30,786.21 L924.11,786.23 L924.92,786.25 L925.73,786.26 L926.54,786.28 L927.35,786.29 L928.16,786.30 L928.97,786.32 L929.77,786.33 L930.58,786.34 L931.39,786.35 L932.20,786.36 L933.01,786.37 L933.82,786.38 L934.63,786.39 L935.44,786.40 L936.25,786.41 L937.06,786.42 L937.87,786.43 L938.68,786.44 L939.49,786.45 L940.30,786.45 L941.11,786.46 L941.92,786.47 L942.73,786.48 L943.54,786.48 L944.34,786.49 L945.15,786.50 L945.96,786.50 L946.77,786.51 L947.58,786.51 L948.39,786.52 L949.20,786.52 L950.01,786.53 L950.82,786.53 L951.63,786.54 L952.44,786.54 L953.25,786.55 L954.06,786.55 L954.87,786.56 L955.68,786.56 L956.49,786.56 L957.30,786.57 L958.11,786.57 L958.91,786.58 L959.72,786.58 L960.53,786.58 L961.34,786.58 L962.15,786.59 L962.96,786.59 L963.77,786.59 L964.58,786.60 L965.39,786.60 L966.20,786.60 L967.01,786.60 L967.82,786.60 L968.63,786.61 L969.44,786.61 L970.25,786.61 L971.06,786.61 L971.87,786.61 L972.68,786.61 L973.49,786.61 L974.29,786.62 L975.10,786.62 L975.91,786.62 L976.72,786.62 L977.53,786.62 L978.34,786.62 L979.15,786.62 L979.96,786.62 L980.77,786.62 L981.58,786.62 L982.39,786.62 L983.20,786.62 L984.01,786.62 L984.82,786.62 L985.63,786.62 L986.44,786.62 L987.25,786.62 L988.05,786.62 L988.86,786.62 L989.67,786.62 L990.48,786.62 L991.29,786.62 L992.10,786.61 L992.91,786.61 L993.72,786.61 L994.53,786.61 L995.34,786.61 L996.15,786.61 L996.96,786.60 L997.77,786.60 L998.58,786.60 L999.39,786.60 L1000.20,786.60 L1001.01,786.59 L1001.82,786.59 L1002.62,786.59 L1003.43,786.58 L1004.24,786.58 L1005.05,786.58 L1005.86,786.57 L1006.67,786.57 L1007.48,786.57 L1008.29,786.56 L1009.10,786.56 L1009.91,786.56 L1010.72,786.55 L1011.53,786.55 L1012.34,786.54 L1013.15,786.54 L1013.96,786.53 L1014.77,786.53 L1015.58,786.52 L1016.39,786.51 L1017.19,786.51 L1018.00,786.50 L1018.81,786.50 L1019.62,786.49 L1020.43,786.48 L1021.24,786.47 L1022.05,786.47 L1022.86,786.46 L1023.67,786.45 L1024.48,786.44 L1025.29,786.43 L1026.10,786.42 L1026.91,786.42 L1027.72,786.41 L1028.53,786.39 L1029.34,786.38 L1030.15,786.37 L1030.96,786.36 L1031.76,786.35 L1032.57,786.34 L1033.38,786.32 L1034.19,786.31 L1035.00,786.30 L1035.81,786.28 L1036.62,786.27 L1037.43,786.25 L1038.24,786.24 L1039.05,786.22 L1039.86,786.20 L1040.67,786.18 L1041.48,786.16 L1042.29,786.14 L1043.10,786.12 L1043.91,786.10 L1044.72,786.08 L1045.53,786.06 L1046.34,786.03 L1047.14,786.01 L1047.95,785.98 L1048.76,785.95 L1049.57,785.92 L1050.38,785.89 L1051.19,785.86 L1052.00,785.82 L1052.81,785.79 L1053.62,785.75 L1054.43,785.71 L1055.24,785.67 L1056.05,785.63 L1056.86,785.58 L1057.67,785.54 L1058.48,785.49 L1059.29,785.43 L1060.10,785.38 L1060.90,785.32 L1061.71,785.25 L1062.52,785.19 L1063.33,785.12 L1064.14,785.04 L1064.95,784.96 L1065.76,784.88 L1066.57,784.79 L1067.38,784.70 L1068.19,784.59 L1069.00,784.49 L1069.81,784.37 L1070.62,784.24 L1071.43,784.11 L1072.24,783.97 L1073.05,783.81 L1073.86,783.65 L1074.67,783.47 L1075.47,783.27 L1076.28,783.06 L1077.09,782.83 L1077.90,782.58 L1078.71,782.31 L1079.52,782.01 L1080.33,781.67 L1081.14,781.30 L1081.95,780.87 L1082.76,780.38 L1083.57,779.80 L1084.38,779.12 L1085.19,778.29 L1086.00,777.27 L1086.81,775.99 L1087.62,774.37 L1088.43,772.31 L1089.24,769.69 L1090.05,766.37 L1090.85,762.19 L1091.66,756.98 L1092.47,750.58 L1093.28,742.83 L1094.09,733.62 L1094.90,722.88 L1095.71,710.62 L1096.52,696.92 L1097.33,682.01 L1098.14,666.20 L1098.95,649.96 L1099.76,633.91 L1100.57,618.82 L1101.38,605.58 L1102.19,595.16 L1103.00,588.46 L1103.81,586.15 L1104.62,588.46 L1105.42,595.16 L1106.23,605.58 L1107.04,618.82 L1107.85,633.92 L1108.66,649.97 L1109.47,666.21 L1110.28,682.02 L1111.09,696.94 L1111.90,710.63 L1112.71,722.90 L1113.52,733.64 L1114.33,742.85 L1115.14,750.60 L1115.95,757.01 L1116.76,762.22 L1117.57,766.40 L1118.38,769.72 L1119.18,772.34 L1119.99,774.40 L1120.80,776.02 L1121.61,777.31 L1122.42,778.33 L1123.23,779.16 L1124.04,779.85 L1124.85,780.42 L1125.66,780.92 L1126.47,781.34 L1127.28,781.72 L1128.09,782.06 L1128.90,782.36 L1129.71,782.64 L1130.52,782.89 L1131.33,783.12 L1132.14,783.33 L1132.95,783.53 L1133.75,783.71 L1134.56,783.88 L1135.37,784.03 L1136.18,784.18 L1136.99,784.32 L1137.80,784.44 L1138.61,784.56 L1139.42,784.67 L1140.23,784.77 L1141.04,784.87 L1141.85,784.96 L1142.66,785.05 L1143.47,785.13 L1144.28,785.20 L1145.09,785.28 L1145.90,785.34 L1146.71,785.41 L1147.52,785.47 L1148.33,785.53 L1149.13,785.58 L1149.94,785.64 L1150.75,785.68 L1151.56,785.73 L1152.37,785.78 L1153.18,785.82 L1153.99,785.86 L1154.80,785.90 L1155.61,785.94 L1156.42,785.97 L1157.23,786.01 L1158.04,786.04 L1158.85,786.07 L1159.66,786.10 L1160.47,786.13 L1161.28,786.16 L1162.09,786.18 L1162.89,786.21 L1163.70,786.23 L1164.51,786.26 L1165.32,786.28 L1166.13,786.30 L1166.94,786.32 L1167.75,786.34 L1168.56,786.36 L1169.37,786.38 L1170.18,786.40 L1170.99,786.42 L1171.80,786.43 L1172.61,786.45 L1173.42,786.47 L1174.23,786.48 L1175.04,786.50 L1175.85,786.51 L1176.66,786.53 L1177.46,786.54 L1178.27,786.55 L1179.08,786.56 L1179.89,786.58 L1180.70,786.59 L1181.51,786.60 L1182.32,786.61 L1183.13,786.62 L1183.94,786.63 L1184.75,786.64 L1185.56,786.65 L1186.37,786.66 L1187.18,786.67 L1187.99,786.68 L1188.80,786.69 L1189.61,786.70 L1190.42,786.71 L1191.23,786.72 L1192.03,786.73 L1192.84,786.73 L1193.65,786.74 L1194.46,786.75 L1195.27,786.76 L1196.08,786.76 L1196.89,786.77 L1197.70,786.78 L1198.51,786.78 L1199.32,786.79 L1200.13,786.80 L1200.94,786.80 L1201.75,786.81 L1202.56,786.82 L1203.37,786.82 L1204.18,786.83 L1204.99,786.83 L1205.80,786.84 L1206.61,786.84 L1207.41,786.85 L1208.22,786.85 L1209.03,786.86 L1209.84,786.86 L1210.65,786.87 L1211.46,786.87 L1212.27,786.88 L1213.08,786.88 L1213.89,786.89 L1214.70,786.89 L1215.51,786.90 L1216.32,786.90 L1217.13,786.91 L1217.94,786.91 L1218.75,786.91 L1219.56,786.92 L1220.37,786.92 L1221.17,786.93 L1221.98,786.93 L1222.79,786.93 L1223.60,786.94 L1224.41,786.94 L1225.22,786.94 L1226.03,786.95 L1226.84,786.95 L1227.65,786.95 L1228.46,786.96 L1229.27,786.96 L1230.08,786.96 L1230.89,786.97 L1231.70,786.97 L1232.51,786.97 L1233.32,786.98 L1234.13,786.98 L1234.94,786.98 L1235.74,786.98 L1236.55,786.99 L1237.36,786.99 L1238.17,786.99 L1238.98,787.00 L1239.79,787.00 L1240.60,787.00 L1241.41,787.00 L1242.22,787.01 L1243.03,787.01 L1243.84,787.01 L1244.65,787.01 L1245.46,787.02 L1246.27,787.02 L1247.08,787.02 L1247.89,787.02 L1248.70,787.03 L1249.51,787.03 L1250.32,787.03 L1251.12,787.03 L1251.93,787.03 L1252.74,787.04 L1253.55,787.04 L1254.36,787.04 L1255.17,787.04 L1255.98,787.05 L1256.79,787.05 L1257.60,787.05 L1258.41,787.05 L1259.22,787.05 L1260.03,787.06 L1260.84,787.06 L1261.65,787.06 L1262.46,787.06 L1263.27,787.06 L1264.08,787.07 L1264.88,787.07 L1265.69,787.07 L1266.50,787.07 L1267.31,787.07 L1268.12,787.07 L1268.93,787.08 L1269.74,787.08 L1270.55,787.08 L1271.36,787.08 L1272.17,787.08 L1272.98,787.08 L1273.79,787.09 L1274.60,787.09 L1275.41,787.09 L1276.22,787.09 L1277.03,787.09 L1277.84,787.09 L1278.65,787.10 L1279.45,787.10 L1280.26,787.10 L1281.07,787.10 L1281.88,787.10 L1282.69,787.10 L1283.50,787.11 L1284.31,787.11 L1285.12,787.11 L1285.93,787.11 L1286.74,787.11 L1287.55,787.11 L1288.36,787.11 L1289.17,787.12 L1289.98,787.12 L1290.79,787.12 L1291.60,787.12 L1292.41,787.12 L1293.22,787.12 L1294.02,787.12 L1294.83,787.12 L1295.64,787.13 L1296.45,787.13 L1297.26,787.13 L1298.07,787.13 L1298.88,787.13 L1299.69,787.13 L1300.50,787.13 L1301.31,787.14 L1302.12,787.14 L1302.93,787.14 L1303.74,787.14 L1304.55,787.14 L1305.36,787.14 L1306.17,787.14 L1306.98,787.14 L1307.79,787.15 L1308.60,787.15 L1309.40,787.15 L1310.21,787.15 L1311.02,787.15 L1311.83,787.15 L1312.64,787.15 L1313.45,787.15 L1314.26,787.15 L1315.07,787.16 L1315.88,787.16 L1316.69,787.16 L1317.50,787.16 L1318.31,787.16 L1319.12,787.16 L1319.93,787.16 L1320.74,787.16 L1321.55,787.16 L1322.36,787.17 L1323.16,787.17 L1323.97,787.17 L1324.78,787.17 L1325.59,787.17 L1326.40,787.17 L1327.21,787.17 L1328.02,787.17 L1328.83,787.17 L1329.64,787.18 L1330.45,787.18 L1331.26,787.18 L1332.07,787.18 L1332.88,787.18 L1333.69,787.18 L1334.50,787.18 L1335.31,787.18 L1336.12,787.18 L1336.93,787.18 L1337.73,787.19 L1338.54,787.19 L1339.35,787.19 L1340.16,787.19 L1340.97,787.19 L1341.78,787.19 L1342.59,787.19 L1343.40,787.19 L1344.21,787.19 L1345.02,787.19 L1345.83,787.20 L1346.64,787.20 L1347.45,787.20 L1348.26,787.20 L1349.07,787.20 L1349.88,787.20 L1350.69,787.20 L1351.50,787.20 L1352.30,787.20 L1353.11,787.20 L1353.92,787.20 L1354.73,787.21 L1355.54,787.21 L1356.35,787.21 L1357.16,787.21 L1357.97,787.21 L1358.78,787.21 L1359.59,787.21 L1360.40,787.21 L1361.21,787.21 L1362.02,787.21 L1362.83,787.21 L1363.64,787.22 L1364.45,787.22 L1365.26,787.22 L1366.07,787.22 L1366.88,787.22 L1367.68,787.22 L1368.49,787.22 L1369.30,787.22 L1370.11,787.22 L1370.92,787.22 L1371.73,787.22 L1372.54,787.23 L1373.35,787.23 L1374.16,787.23 L1374.97,787.23 L1375.78,787.23 L1376.59,787.23 L1377.40,787.23 L1378.21,787.23 L1379.02,787.23 L1379.83,787.23 L1380.64,787.23 L1381.44,787.23 L1382.25,787.24 L1383.06,787.24 L1383.87,787.24 L1384.68,787.24 L1385.49,787.24 L1386.30,787.24 L1387.11,787.24 L1387.92,787.24 L1388.73,787.24 L1389.54,787.24 L1390.35,787.24 L1391.16,787.24 L1391.97,787.24 L1392.78,787.25 L1393.59,787.25 L1394.40,787.25 L1395.21,787.25 L1396.01,787.25 L1396.82,787.25 L1397.63,787.25 L1398.44,787.25 L1399.25,787.25 L1400.06,787.25 L1400.87,787.25 L1401.68,787.25 L1402.49,787.26 L1403.30,787.26 L1404.11,787.26 L1404.92,787.26 L1405.73,787.26 L1406.54,787.26 L1407.35,787.26 L1408.16,787.26 L1408.97,787.26 L1409.78,787.26 L1410.59,787.26 L1411.39,787.26 L1412.20,787.26 L1413.01,787.26 L1413.82,787.27 L1414.63,787.27 L1415.44,787.27 L1416.25,787.27 L1417.06,787.27 L1417.87,787.27 L1418.68,787.27 L1419.49,787.27 L1420.30,787.27 L1421.11,787.27 L1421.92,787.27 L1422.73,787.27 L1423.54,787.27 L1424.35,787.28 L1425.15,787.28 L1425.96,787.28 L1426.77,787.28 L1427.58,787.28 L1428.39,787.28 L1429.20,787.28 L1430.01,787.28 L1430.82,787.28 L1431.63,787.28 L1432.44,787.28 L1433.25,787.28 L1434.06,787.28 L1434.87,787.28 L1435.68,787.29 L1436.49,787.29 L1437.30,787.29 L1438.11,787.29 L1438.92,787.29 L1439.72,787.29 L1440.53,787.29 L1441.34,787.29 L1442.15,787.29 L1442.96,787.29 L1443.77,787.29 L1444.58,787.29 L1445.39,787.29 L1446.20,787.29 L1447.01,787.30 L1447.82,787.30 L1448.63,787.30 L1449.44,787.30 L1450.25,787.30 L1451.06,787.30 L1451.87,787.30 L1452.68,787.30 L1453.49,787.30 L1454.29,787.30 L1455.10,787.30 L1455.91,787.30 L1456.72,787.30 L1457.53,787.30 L1458.34,787.31 L1459.15,787.31 L1459.96,787.31 L1460.77,787.31 L1461.58,787.31 L1462.39,787.31 L1463.20,787.31 L1464.01,787.31 L1464.82,787.31 L1465.63,787.31 L1466.44,787.31 L1467.25,787.31 L1468.06,787.31 L1468.87,787.31 L1469.67,787.31 L1470.48,787.32 L1471.29,787.32 L1472.10,787.32 L1472.91,787.32 L1473.72,787.32 L1474.53,787.32 L1475.34,787.32 L1476.15,787.32 L1476.96,787.32 L1477.77,787.32 L1478.58,787.32 L1479.39,787.32 L1480.20,787.32 L1481.01,787.32 L1481.82,787.32 L1482.63,787.33 L1483.43,787.33 L1484.24,787.33 L1485.05,787.33 L1485.86,787.33 L1486.67,787.33 L1487.48,787.33 L1488.29,787.33 L1489.10,787.33 L1489.91,787.33 L1490.72,787.33 L1491.53,787.33 L1492.34,787.33 L1493.15,787.33 L1493.96,787.33 L1494.77,787.34 L1495.58,787.34 L1496.39,787.34 L1497.20,787.34 L1498.00,787.34 L1498.81,787.34 L1499.62,787.34 L1500.43,787.34 L1501.24,787.34 L1502.05,787.34 L1502.86,787.34 L1503.67,787.34 L1504.48,787.34 L1505.29,787.34 L1506.10,787.34 L1506.91,787.35 L1507.72,787.35 L1508.53,787.35 L1509.34,787.35 L1510.15,787.35 L1510.96,787.35 L1511.77,787.35 L1512.58,787.35 L1513.38,787.35 L1514.19,787.35 L1515.00,787.35 L1515.81,787.35 L1516.62,787.35 L1517.43,787.35 L1518.24,787.35 L1519.05,787.36 L1519.86,787.36 L1520.67,787.36 L1521.48,787.36 L1522.29,787.36 L1523.10,787.36 L1523.91,787.36 L1524.72,787.36 L1525.53,787.36 L1526.34,787.36 L1527.14,787.36 L1527.95,787.36 L1528.76,787.36 L1529.57,787.36 L1530.38,787.36 L1531.19,787.36 L1532.00,787.37 L1532.81,787.37 L1533.62,787.37 L1534.43,787.37 L1535.24,787.37 L1536.05,787.37 L1536.86,787.37 L1537.67,787.37 L1538.48,787.37 L1539.29,787.37 L1540.10,787.37 L1540.91,787.37 L1541.71,787.37 L1542.52,787.37 L1543.33,787.37 L1544.14,787.37 L1544.95,787.38 L1545.76,787.38 L1546.57,787.38 L1547.38,787.38 L1548.19,787.38 L1549.00,787.38 L1549.81,787.38 L1550.62,787.38 L1551.43,787.38 L1552.24,787.38 L1553.05,787.38 L1553.86,787.38 L1554.67,787.38 L1555.48,787.38 L1556.28,787.38 L1557.09,787.38"/>
<path stroke="#1f77b4" d="M88.76,1049.19 L89.57,1049.19 L90.38,1049.19 L91.19,1049.19 L92.00,1049.19 L92.81,1049.19 L93.62,1049.19 L94.43,1049.19 L95.24,1049.19 L96.05,1049.19 L96.86,1049.19 L97.67,1049.19 L98.48,1049.19 L99.28,1049.19 L100.09,1049.19 L100.90,1049.19 L101.71,1049.19 L102.52,1049.19 L103.33,1049.19 L104.14,1049.19 L104.95,1049.19 L105.76,1049.19 L106.57,1049.19 L107.38,1049.19 L108.19,1049.19 L109.00,1049.19 L109.81,1049.19 L110.62,1049.19 L111.43,1049.19 L112.24,1049.19 L113.05,1049.19 L113.86,1049.19 L114.66,1049.19 L115.47,1049.19 L116.28,1049.19 L117.09,1049.19 L117.90,1049.19 L118.71,1049.19 L119.52,1049.19 L120.33,1049.19 L121.14,1049.19 L121.95,1049.19 L122.76,1049.19 L123.57,1049.19 L124.38,1049.19 L125.19,1049.19 L126.00,1049.19 L126.81,1049.19 L127.62,1049.19 L128.43,1049.19 L129.23,1049.19 L130.04,1049.19 L130.85,1049.19 L131.66,1049.19 L132.47,1049.19 L133.28,1049.19 L134.09,1049.19 L134.90,1049.19 L135.71,1049.19 L136.52,1049.19 L137.33,1049.19 L138.14,1049.19 L138.95,1049.19 L139.76,1049.19 L140.57,1049.19 L141.38,1049.19 L142.19,1049.19 L143.00,1049.19 L143.80,1049.19 L144.61,1049.19 L145.42,1049.19 L146.23,1049.19 L147.04,1049.19 L147.85,1049.19 L148.66,1049.19 L149.47,1049.19 L150.28,1049.19 L151.09,1049.19 L151.90,1049.19 L152.71,1049.19 L153.52,1049.19 L154.33,1049.19 L155.14,1049.19 L155.95,1049.19 L156.76,1049.19 L157.56,1049.19 L158.37,1049.19 L159.18,1049.19 L159.99,1049.19 L160.80,1049.19 L161.61,1049.19 L162.42,1049.19 L163.23,1049.19 L164.04,1049.19 L164.85,1049.19 L165.66,1049.19 L166.47,1049.19 L167.28,1049.19 L168.09,1049.19 L168.90,1049.19 L169.71,1049.19 L170.52,1049.19 L171.33,1049.19 L172.13,1049.19 L172.94,1049.19 L173.75,1049.19 L174.56,1049.19 L175.37,1049.19 L176.18,1049.19 L176.99,1049.19 L177.80,1049.19 L178.61,1049.19 L179.42,1049.19 L180.23,1049.19 L181.04,1049.19 L181.85,1049.19 L182.66,1049.19 L183.47,1049.19 L184.28,1049.19 L185.09,1049.19 L185.90,1049.19 L186.70,1049.19 L187.51,1049.19 L188.32,1049.19 L189.13,1049.19 L189.94,1049.19 L190.75,1049.19 L191.56,1049.19 L192.37,1049.19 L193.18,1049.19 L193.99,1049.19 L194.80,1049.19 L195.61,1049.19 L196.42,1049.19 L197.23,1049.19 L198.04,1049.19 L198.85,1049.19 L199.66,1049.19 L200.47,1049.19 L201.27,1049.19 L202.08,1049.19 L202.89,1049.19 L203.70,1049.19 L204.51,1049.19 L205.32,1049.19 L206.13,1049.19 L206.94,1049.19 L207.75,1049.19 L208.56,1049.19 L209.37,1049.19 L210.18,1049.19 L210.99,1049.19 L211.80,1049.19 L212.61,1049.19 L213.42,1049.19 L214.23,1049.19 L215.04,1049.19 L215.84,1049.19 L216.65,1049.19 L217.46,1049.19 L218.27,1049.19 L219.08,1049.19 L219.89,1049.19 L220.70,1049.19 L221.51,1049.19 L222.32,1049.19 L223.13,1049.19 L223.94,1049.19 L224.75,1049.19 L225.56,1049.19 L226.37,1049.19 L227.18,1049.19 L227.99,1049.19 L228.80,1049.19 L229.61,1049.19 L230.41,1049.19 L231.22,1049.19 L232.03,1049.19 L232.84,1049.19 L233.65,1049.19 L234.46,1049.19 L235.27,1049.19 L236.08,1049.19 L236.89,1049.19 L237.70,1049.19 L238.51,1049.19 L239.32,1049.19 L240.13,1049.19 L240.94,1049.19 L241.75,1049.19 L242.56,1049.19 L243.37,1049.19 L244.18,1049.19 L244.98,1049.19 L245.79,1049.19 L246.60,1049.19 L247.41,1049.19 L248.22,1049.19 L249.03,1049.19 L249.84,1049.19 L250.65,1049.19 L251.46,1049.19 L252.27,1049.19 L253.08,1049.19 L253.89,1049.19 L254.70,1049.19 L255.51,1049.19 L256.32,1049.19 L257.13,1049.19 L257.94,1049.19 L258.75,1049.19 L259.56,1049.19 L260.36,1049.19 L261.17,1049.19 L261.98,1049.19 L262.79,1049.19 L263.60,1049.19 L264.41,1049.19 L265.22,1049.19 L266.03,1049.19 L266.84,1049.19 L267.65,1049.19 L268.46,1049.19 L269.27,1049.19 L270.08,1049.19 L270.89,1049.19 L271.70,1049.19 L272.51,1049.19 L273.32,1049.19 L274.12,1049.19 L274.93,1049.19 L275.74,1049.19 L276.55,1049.19 L277.36,1049.19 L278.17,1049.19 L278.98,1049.19 L279.79,1049.19 L280.60,1049.19 L281.41,1049.19 L282.22,1049.19 L283.03,1049.19 L283.84,1049.19 L284.65,1049.19 L285.46,1049.19 L286.27,1049.19 L287.08,1049.19 L287.89,1049.19 L288.69,1049.19 L289.50,1049.19 L290.31,1049.19 L291.12,1049.19 L291.93,1049.19 L292.74,1049.19 L293.55,1049.19 L294.36,1049.19 L295.17,1049.19 L295.98,1049.19 L296.79,1049.19 L297.60,1049.19 L298.41,1049.19 L299.22,1049.19 L300.03,1049.19 L300.84,1049.19 L301.65,1049.19 L302.46,1049.19 L303.26,1049.19 L304.07,1049.19 L304.88,1049.19 L305.69,1049.19 L306.50,1049.19 L307.31,1049.19 L308.12,1049.19 L308.93,1049.19 L309.74,1049.19 L310.55,1049.19 L311.36,1049.19 L312.17,1049.19 L312.98,1049.19 L313.79,1049.19 L314.60,1049.19 L315.41,1049.19 L316.22,1049.19 L317.03,1049.19 L317.83,1049.19 L318.64,1049.19 L319.45,1049.19 L320.26,1049.19 L321.07,1049.19 L321.88,1049.19 L322.69,1049.19 L323.50,1049.19 L324.31,1049.19 L325.12,1049.19 L325.93,1049.19 L326.74,1049.19 L327.55,1049.19 L328.36,1049.19 L329.17,1049.19 L329.98,1049.19 L330.79,1049.19 L331.60,1049.19 L332.40,1049.19 L333.21,1049.19 L334.02,1049.19 L334.83,1049.19 L335.64,1049.19 L336.45,1049.19 L337.26,1049.19 L338.07,1049.19 L338.88,1049.19 L339.69,1049.19 L340.50,1049.19 L341.31,1049.19 L342.12,1049.19 L342.93,1049.19 L343.74,1049.19 L344.55,1049.19 L345.36,1049.19 L346.17,1049.19 L346.98,1049.19 L347.78,1049.19 L348.59,1049.19 L349.40,1049.19 L350.21,1049.19 L351.02,1049.19 L351.83,1049.19 L352.64,1049.19 L353.45,1049.19 L354.26,1049.19 L355.07,1049.19 L355.88,1049.19 L356.69,1049.19 L357.50,1049.19 L358.31,1049.19 L359.12,1049.19 L359.93,1049.19 L360.74,1049.19 L361.55,1049.19 L362.35,1049.19 L363.16,1049.19 L363.97,1049.19 L364.78,1049.19 L365.59,1049.19 L366.40,1049.19 L367.21,1049.19 L368.02,1049.19 L368.83,1049.19 L369.64,1049.19 L370.45,1049.19 L371.26,1049.19 L372.07,1049.19 L372.88,1049.19 L373.69,1049.19 L374.50,1049.19 L375.31,1049.19 L376.12,1049.19 L376.92,1049.19 L377.73,1049.19 L378.54,1049.19 L379.35,1049.19 L380.16,1049.19 L380.97,1049.19 L381.78,1049.19 L382.59,1049.19 L383.40,1049.19 L384.21,1049.19 L385.02,1049.19 L385.83,1049.19 L386.64,1049.19 L387.45,1049.19 L388.26,1049.19 L389.07,1049.19 L389.88,1049.19 L390.69,1049.19 L391.49,1049.19 L392.30,1049.19 L393.11,1049.19 L393.92,1049.19 L394.73,1049.19 L395.54,1049.19 L396.35,1049.19 L397.16,1049.19 L397.97,1049.19 L398.78,1049.19 L399.59,1049.19 L400.40,1049.19 L401.21,1049.18 L402.02,1049.18 L402.83,1049.18 L403.64,1049.18 L404.45,1049.18 L405.25,1049.18 L406.06,1049.18 L406.87,1049.18 L407.68,1049.18 L408.49,1049.18 L409.30,1049.18 L410.11,1049.18 L410.92,1049.18 L411.73,1049.18 L412.54,1049.18 L413.35,1049.18 L414.16,1049.18 L414.97,1049.18 L415.78,1049.18 L416.59,1049.18 L417.40,1049.18 L418.21,1049.18 L419.02,1049.18 L419.82,1049.18 L420.63,1049.18 L421.44,1049.18 L422.25,1049.18 L423.06,1049.18 L423.87,1049.18 L424.68,1049.18 L425.49,1049.18 L426.30,1049.18 L427.11,1049.18 L427.92,1049.18 L428.73,1049.18 L429.54,1049.18 L430.35,1049.18 L431.16,1049.18 L431.97,1049.18 L432.78,1049.18 L433.59,1049.18 L434.39,1049.18 L435.20,1049.18 L436.01,1049.18 L436.82,1049.18 L437.63,1049.18 L438.44,1049.18 L439.25,1049.18 L440.06,1049.18 L440.87,1049.18 L441.68,1049.18 L442.49,1049.18 L443.30,1049.18 L444.11,1049.18 L444.92,1049.18 L445.73,1049.18 L446.54,1049.18 L447.35,1049.18 L448.16,1049.18 L448.96,1049.18 L449.77,1049.18 L450.58,1049.18 L451.39,1049.18 L452.20,1049.18 L453.01,1049.18 L453.82,1049.18 L454.63,1049.18 L455.44,1049.18 L456.25,1049.18 L457.06,1049.18 L457.87,1049.18 L458.68,1049.18 L459.49,1049.18 L460.30,1049.18 L461.11,1049.18 L461.92,1049.18 L462.73,1049.18 L463.53,1049.18 L464.34,1049.18 L465.15,1049.18 L465.96,1049.18 L466.77,1049.18 L467.58,1049.18 L468.39,1049.18 L469.20,1049.18 L470.01,1049.18 L470.82,1049.18 L471.63,1049.18 L472.44,1049.18 L473.25,1049.18 L474.06,1049.18 L474.87,1049.18 L475.68,1049.18 L476.49,1049.18 L477.30,1049.18 L478.10,1049.18 L478.91,1049.18 L479.72,1049.18 L480.53,1049.18 L481.34,1049.18 L482.15,1049.18 L482.96,1049.18 L483.77,1049.18 L484.58,1049.18 L485.39,1049.18 L486.20,1049.18 L487.01,1049.18 L487.82,1049.18 L488.63,1049.18 L489.44,1049.18 L490.25,1049.18 L491.06,1049.18 L491.87,1049.18 L492.68,1049.18 L493.48,1049.18 L494.29,1049.18 L495.10,1049.18 L495.91,1049.18 L496.72,1049.18 L497.53,1049.18 L498.34,1049.18 L499.15,1049.18 L499.96,1049.18 L500.77,1049.18 L501.58,1049.18 L502.39,1049.18 L503.20,1049.18 L504.01,1049.18 L504.82,1049.18 L505.63,1049.18 L506.44,1049.18 L507.25,1049.18 L508.05,1049.18 L508.86,1049.18 L509.67,1049.18 L510.48,1049.18 L511.29,1049.18 L512.10,1049.18 L512.91,1049.18 L513.72,1049.18 L514.53,1049.18 L515.34,1049.18 L516.15,1049.18 L516.96,1049.18 L517.77,1049.18 L518.58,1049.18 L519.39,1049.18 L520.20,1049.18 L521.01,1049.17 L521.82,1049.17 L522.62,1049.17 L523.43,1049.17 L524.24,1049.17 L525.05,1049.17 L525.86,1049.17 L526.67,1049.17 L527.48,1049.17 L528.29,1049.17 L529.10,1049.17 L529.91,1049.17 L530.72,1049.17 L531.53,1049.17 L532.34,1049.17 L533.15,1049.17 L533.96,1049.17 L534.77,1049.17 L535.58,1049.17 L536.38,1049.17 L537.19,1049.17 L538.00,1049.17 L538.81,1049.17 L539.62,1049.17 L540.43,1049.17 L541.24,1049.17 L542.05,1049.17 L542.86,1049.17 L543.67,1049.17 L544.48,1049.17 L545.29,1049.17 L546.10,1049.17 L546.91,1049.17 L547.72,1049.17 L548.53,1049.17 L549.34,1049.17 L550.15,1049.17 L550.95,1049.17 L551.76,1049.17 L552.57,1049.17 L553.38,1049.17 L554.19,1049.17 L555.00,1049.17 L555.81,1049.17 L556.62,1049.17 L557.43,1049.17 L558.24,1049.17 L559.05,1049.17 L559.86,1049.17 L560.67,1049.17 L561.48,1049.17 L562.29,1049.17 L563.10,1049.17 L563.91,1049.17 L564.72,1049.17 L565.52,1049.17 L566.33,1049.17 L567.14,1049.17 L567.95,1049.17 L568.76,1049.17 L569.57,1049.17 L570.38,1049.17 L571.19,1049.17 L572.00,1049.17 L572.81,1049.17 L573.62,1049.17 L574.43,1049.17 L575.24,1049.17 L576.05,1049.17 L576.86,1049.17 L577.67,1049.17 L578.48,1049.17 L579.29,1049.17 L580.10,1049.17 L580.90,1049.17 L581.71,1049.17 L582.52,1049.16 L583.33,1049.16 L584.14,1049.16 L584.95,1049.16 L585.76,1049.16 L586.57,1049.16 L587.38,1049.16 L588.19,1049.16 L589.00,1049.16 L589.81,1049.16 L590.62,1049.16 L591.43,1049.16 L592.24,1049.16 L593.05,1049.16 L593.86,1049.16 L594.66,1049.16 L595.47,1049.16 L596.28,1049.16 L597.09,1049.16 L597.90,1049.16 L598.71,1049.16 L599.52,1049.16 L600.33,1049.16 L601.14,1049.16 L601.95,1049.16 L602.76,1049.16 L603.57,1049.16 L604.38,1049.16 L605.19,1049.16 L606.00,1049.16 L606.81,1049.16 L607.62,1049.16 L608.43,1049.16 L609.24,1049.16 L610.04,1049.16 L610.85,1049.16 L611.66,1049.16 L612.47,1049.16 L613.28,1049.16 L614.09,1049.16 L614.90,1049.16 L615.71,1049.16 L616.52,1049.16 L617.33,1049.16 L618.14,1049.16 L618.95,1049.16 L619.76,1049.16 L620.57,1049.16 L621.38,1049.15 L622.19,1049.15 L623.00,1049.15 L623.80,1049.15 L624.61,1049.15 L625.42,1049.15 L626.23,1049.15 L627.04,1049.15 L627.85,1049.15 L628.66,1049.15 L629.47,1049.15 L630.28,1049.15 L631.09,1049.15 L631.90,1049.15 L632.71,1049.15 L633.52,1049.15 L634.33,1049.15 L635.14,1049.15 L635.95,1049.15 L636.76,1049.15 L637.57,1049.15 L638.38,1049.15 L639.18,1049.15 L639.99,1049.15 L640.80,1049.15 L641.61,1049.15 L642.42,1049.15 L643.23,1049.15 L644.04,1049.15 L644.85,1049.15 L645.66,1049.15 L646.47,1049.15 L647.28,1049.15 L648.09,1049.14 L648.90,1049.14 L649.71,1049.14 L650.52,1049.14 L651.33,1049.14 L652.14,1049.14 L652.94,1049.14 L653.75,1049.14 L654.56,1049.14 L655.37,1049.14 L656.18,1049.14 L656.99,1049.14 L657.80,1049.14 L658.61,1049.14 L659.42,1049.14 L660.23,1049.14 L661.04,1049.14 L661.85,1049.14 L662.66,1049.14 L663.47,1049.14 L664.28,1049.14 L665.09,1049.14 L665.90,1049.14 L666.71,1049.14 L667.51,1049.13 L668.32,1049.13 L669.13,1049.13 L669.94,1049.13 L670.75,1049.13 L671.56,1049.13 L672.37,1049.13 L673.18,1049.13 L673.99,1049.13 L674.80,1049.13 L675.61,1049.13 L676.42,1049.13 L677.23,1049.13 L678.04,1049.13 L678.85,1049.13 L679.66,1049.13 L680.47,1049.13 L681.28,1049.13 L682.08,1049.13 L682.89,1049.13 L683.70,1049.12 L684.51,1049.12 L685.32,1049.12 L686.13,1049.12 L686.94,1049.12 L687.75,1049.12 L688.56,1049.12 L689.37,1049.12 L690.18,1049.12 L690.99,1049.12 L691.80,1049.12 L692.61,1049.12 L693.42,1049.12 L694.23,1049.12 L695.04,1049.12 L695.85,1049.11 L696.65,1049.11 L697.46,1049.11 L698.27,1049.11 L699.08,1049.11 L699.89,1049.11 L700.70,1049.11 L701.51,1049.11 L702.32,1049.11 L703.13,1049.11 L703.94,1049.11 L704.75,1049.11 L705.56,1049.11 L706.37,1049.10 L707.18,1049.10 L707.99,1049.10 L708.80,1049.10 L709.61,1049.10 L710.42,1049.10 L711.23,1049.10 L712.03,1049.10 L712.84,1049.10 L713.65,1049.10 L714.46,1049.09 L715.27,1049.09 L716.08,1049.09 L716.89,1049.09 L717.70,1049.09 L718.51,1049.09 L719.32,1049.09 L720.13,1049.09 L720.94,1049.09 L721.75,1049.09 L722.56,1049.08 L723.37,1049.08 L724.18,1049.08 L724.99,1049.08 L725.79,1049.08 L726.60,1049.08 L727.41,1049.08 L728.22,1049.08 L729.03,1049.07 L729.84,1049.07 L730.65,1049.07 L731.46,1049.07 L732.27,1049.07 L733.08,1049.07 L733.89,1049.06 L734.70,1049.06 L735.51,1049.06 L736.32,1049.06 L737.13,1049.06 L737.94,1049.06 L738.75,1049.06 L739.56,1049.05 L740.37,1049.05 L741.17,1049.05 L741.98,1049.05 L742.79,1049.05 L743.60,1049.04 L744.41,1049.04 L745.22,1049.04 L746.03,1049.04 L746.84,1049.04 L747.65,1049.03 L748.46,1049.03 L749.27,1049.03 L750.08,1049.03 L750.89,1049.03 L751.70,1049.02 L752.51,1049.02 L753.32,1049.02 L754.13,1049.02 L754.93,1049.01 L755.74,1049.01 L756.55,1049.01 L757.36,1049.01 L758.17,1049.00 L758.98,1049.00 L759.79,1049.00 L760.60,1048.99 L761.41,1048.99 L762.22,1048.99 L763.03,1048.98 L763.84,1048.98 L764.65,1048.98 L765.46,1048.97 L766.27,1048.97 L767.08,1048.97 L767.89,1048.96 L768.70,1048.96 L769.50,1048.96 L770.31,1048.95 L771.12,1048.95 L771.93,1048.94 L772.74,1048.94 L773.55,1048.94 L774.36,1048.93 L775.17,1048.93 L775.98,1048.92 L776.79,1048.92 L777.60,1048.91 L778.41,1048.91 L779.22,1048.90 L780.03,1048.90 L780.84,1048.89 L781.65,1048.88 L782.46,1048.88 L783.27,1048.87 L784.07,1048.87 L784.88,1048.86 L785.69,1048.85 L786.50,1048.84 L787.31,1048.84 L788.12,1048.83 L788.93,1048.82 L789.74,1048.81 L790.55,1048.81 L791.36,1048.80 L792.17,1048.79 L792.98,1048.78 L793.79,1048.77 L794.60,1048.76 L795.41,1048.75 L796.22,1048.74 L797.03,1048.73 L797.84,1048.72 L798.64,1048.71 L799.45,1048.69 L800.26,1048.68 L801.07,1048.67 L801.88,1048.65 L802.69,1048.64 L803.50,1048.62 L804.31,1048.61 L805.12,1048.59 L805.93,1048.58 L806.74,1048.56 L807.55,1048.54 L808.36,1048.52 L809.17,1048.50 L809.98,1048.48 L810.79,1048.46 L811.60,1048.43 L812.41,1048.41 L813.21,1048.38 L814.02,1048.36 L814.83,1048.33 L815.64,1048.30 L816.45,1048.27 L817.26,1048.24 L818.07,1048.20 L818.88,1048.16 L819.69,1048.13 L820.50,1048.08 L821.31,1048.04 L822.12,1048.00 L822.93,1047.95 L823.74,1047.89 L824.55,1047.84 L825.36,1047.78 L826.17,1047.72 L826.98,1047.65 L827.78,1047.58 L828.59,1047.50 L829.40,1047.42 L830.21,1047.33 L831.02,1047.24 L831.83,1047.13 L832.64,1047.02 L833.45,1046.90 L834.26,1046.77 L835.07,1046.63 L835.88,1046.47 L836.69,1046.29 L837.50,1046.10 L838.31,1045.89 L839.12,1045.64 L839.93,1045.36 L840.74,1045.03 L841.55,1044.64 L842.36,1044.17 L843.16,1043.58 L843.97,1042.85 L844.78,1041.93 L845.59,1040.75 L846.40,1039.26 L847.21,1037.36 L848.02,1034.98 L848.83,1032.01 L849.64,1028.35 L850.45,1023.93 L851.26,1018.68 L852.07,1012.55 L852.88,1005.55 L853.69,997.74 L854.50,989.23 L855.31,980.21 L856.12,970.95 L856.92,961.79 L857.73,953.18 L858.54,945.63 L859.35,939.69 L860.16,935.87 L860.97,934.55 L861.78,935.87 L862.59,939.68 L863.40,945.63 L864.21,953.18 L865.02,961.79 L865.83,970.95 L866.64,980.21 L867.45,989.23 L868.26,997.74 L869.07,1005.55 L869.88,1012.54 L870.69,1018.67 L871.50,1023.92 L872.30,1028.34 L873.11,1032.00 L873.92,1034.97 L874.73,1037.35 L875.54,1039.25 L876.35,1040.74 L877.16,1041.91 L877.97,1042.84 L878.78,1043.57 L879.59,1044.15 L880.40,1044.63 L881.21,1045.02 L882.02,1045.34 L882.83,1045.62 L883.64,1045.87 L884.45,1046.08 L885.26,1046.27 L886.06,1046.45 L886.87,1046.60 L887.68,1046.74 L888.49,1046.87 L889.30,1047.00 L890.11,1047.11 L890.92,1047.21 L891.73,1047.30 L892.54,1047.39 L893.35,1047.47 L894.16,1047.55 L894.97,1047.62 L895.78,1047.69 L896.59,1047.75 L897.40,1047.81 L898.21,1047.86 L899.02,1047.91 L899.83,1047.96 L900.63,1048.00 L901.44,1048.05 L902.25,1048.09 L903.06,1048.12 L903.87,1048.16 L904.68,1048.19 L905.49,1048.23 L906.30,1048.26 L907.11,1048.29 L907.92,1048.31 L908.73,1048.34 L909.54,1048.36 L910.35,1048.39 L911.16,1048.41 L911.97,1048.43 L912.78,1048.45 L913.59,1048.47 L914.40,1048.49 L915.20,1048.50 L916.01,1048.52 L916.82,1048.54 L917.63,1048.55 L918.44,1048.57 L919.25,1048.58 L920.06,1048.59 L920.87,1048.61 L921.68,1048.62 L922.49,1048.63 L923.30,1048.64 L924.11,1048.65 L924.92,1048.66 L925.73,1048.67 L926.54,1048.68 L927.35,1048.69 L928.16,1048.70 L928.97,1048.71 L929.77,1048.72 L930.58,1048.72 L931.39,1048.73 L932.20,1048.74 L933.01,1048.75 L933.82,1048.75 L934.63,1048.76 L935.44,1048.76 L936.25,1048.77 L937.06,1048.78 L937.87,1048.78 L938.68,1048.79 L939.49,1048.79 L940.30,1048.80 L941.11,1048.80 L941.92,1048.80 L942.73,1048.81 L943.54,1048.81 L944.34,1048.82 L945.15,1048.82 L945.96,1048.82 L946.77,1048.83 L947.58,1048.83 L948.39,1048.83 L949.20,1048.84 L950.01,1048.84 L950.82,1048.84 L951.63,1048.84 L952.44,1048.85 L953.25,1048.85 L954.06,1048.85 L954.87,1048.85 L955.68,1048.85 L956.49,1048.86 L957.30,1048.86 L958.11,1048.86 L958.91,1048.86 L959.72,1048.86 L960.53,1048.86 L961.34,1048.86 L962.15,1048.87 L962.96,1048.87 L963.77,1048.87 L964.58,1048.87 L965.39,1048.87 L966.20,1048.87 L967.01,1048.87 L967.82,1048.87 L968.63,1048.87 L969.44,1048.87 L970.25,1048.87 L971.06,1048.87 L971.87,1048.87 L972.68,1048.87 L973.49,1048.87 L974.29,1048.87 L975.10,1048.87 L975.91,1048.87 L976.72,1048.87 L977.53,1048.87 L978.34,1048.87 L979.15,1048.87 L979.96,1048.87 L980.77,1048.86 L981.58,1048.86 L982.39,1048.86 L983.20,1048.86 L984.01,1048.86 L984.82,1048.86 L985.63,1048.86 L986.44,1048.86 L987.25,1048.85 L988.05,1048.85 L988.86,1048.85 L989.67,1048.85 L990.48,1048.85 L991.29,1048.84 L992.10,1048.84 L992.91,1048.84 L993.72,1048.84 L994.53,1048.83 L995.34,1048.83 L996.15,1048.83 L996.96,1048.83 L997.77,1048.82 L998.58,1048.82 L999.39,1048.82 L1000.20,1048.81 L1001.01,1048.81 L1001.82,1048.80 L1002.62,1048.80 L1003.43,1048.80 L1004.24,1048.79 L1005.05,1048.79 L1005.86,1048.78 L1006.67,1048.78 L1007.48,1048.77 L1008.29,1048.77 L1009.10,1048.77 L1009.91,1048.76 L1010.72,1048.75 L1011.53,1048.75 L1012.34,1048.74 L1013.15,1048.74 L1013.96,1048.73 L1014.77,1048.72 L1015.58,1048.72 L1016.39,1048.71 L1017.19,1048.70 L1018.00,1048.70 L1018.81,1048.69 L1019.62,1048.68 L1020.43,1048.67 L1021.24,1048.67 L1022.05,1048.66 L1022.86,1048.65 L1023.67,1048.64 L1024.48,1048.63 L1025.29,1048.62 L1026.10,1048.61 L1026.91,1048.60 L1027.72,1048.59 L1028.53,1048.58 L1029.34,1048.57 L1030.15,1048.56 L1030.96,1048.54 L1031.76,1048.53 L1032.57,1048.52 L1033.38,1048.50 L1034.19,1048.49 L1035.00,1048.48 L1035.81,1048.46 L1036.62,1048.44 L1037.43,1048.43 L1038.24,1048.41 L1039.05,1048.39 L1039.86,1048.37 L1040.67,1048.36 L1041.48,1048.34 L1042.29,1048.32 L1043.10,1048.29 L1043.91,1048.27 L1044.72,1048.25 L1045.53,1048.22 L1046.34,1048.20 L1047.14,1048.17 L1047.95,1048.14 L1048.76,1048.11 L1049.57,1048.08 L1050.38,1048.05 L1051.19,1048.02 L1052.00,1047.99 L1052.81,1047.95 L1053.62,1047.91 L1054.43,1047.87 L1055.24,1047.83 L1056.05,1047.79 L1056.86,1047.74 L1057.67,1047.69 L1058.48,1047.64 L1059.29,1047.59 L1060.10,1047.53 L1060.90,1047.47 L1061.71,1047.41 L1062.52,1047.34 L1063.33,1047.27 L1064.14,1047.19 L1064.95,1047.11 L1065.76,1047.03 L1066.57,1046.94 L1067.38,1046.84 L1068.19,1046.74 L1069.00,1046.63 L1069.81,1046.51 L1070.62,1046.39 L1071.43,1046.25 L1072.24,1046.11 L1073.05,1045.95 L1073.86,1045.79 L1074.67,1045.61 L1075.47,1045.41 L1076.28,1045.20 L1077.09,1044.97 L1077.90,1044.72 L1078.71,1044.44 L1079.52,1044.14 L1080.33,1043.80 L1081.14,1043.43 L1081.95,1043.00 L1082.76,1042.51 L1083.57,1041.93 L1084.38,1041.24 L1085.19,1040.41 L1086.00,1039.39 L1086.81,1038.10 L1087.62,1036.48 L1088.43,1034.42 L1089.24,1031.80 L1090.05,1028.47 L1090.85,1024.28 L1091.66,1019.06 L1092.47,1012.65 L1093.28,1004.89 L1094.09,995.67 L1094.90,984.91 L1095.71,972.63 L1096.52,958.91 L1097.33,943.97 L1098.14,928.14 L1098.95,911.88 L1099.76,895.80 L1100.57,880.69 L1101.38,867.43 L1102.19,856.99 L1103.00,850.29 L1103.81,847.97 L1104.62,850.29 L1105.42,856.99 L1106.23,867.43 L1107.04,880.69 L1107.85,895.81 L1108.66,911.88 L1109.47,928.14 L1110.28,943.98 L1111.09,958.92 L1111.90,972.63 L1112.71,984.92 L1113.52,995.67 L1114.33,1004.90 L1115.14,1012.66 L1115.95,1019.07 L1116.76,1024.29 L1117.57,1028.48 L1118.38,1031.80 L1119.18,1034.43 L1119.99,1036.49 L1120.80,1038.11 L1121.61,1039.40 L1122.42,1040.42 L1123.23,1041.25 L1124.04,1041.94 L1124.85,1042.52 L1125.66,1043.01 L1126.47,1043.44 L1127.28,1043.82 L1128.09,1044.15 L1128.90,1044.46 L1129.71,1044.73 L1130.52,1044.98 L1131.33,1045.21 L1132.14,1045.43 L1132.95,1045.62 L1133.75,1045.80 L1134.56,1045.97 L1135.37,1046.12 L1136.18,1046.27 L1136.99,1046.40 L1137.80,1046.53 L1138.61,1046.65 L1139.42,1046.76 L1140.23,1046.86 L1141.04,1046.96 L1141.85,1047.05 L1142.66,1047.13 L1143.47,1047.21 L1144.28,1047.29 L1145.09,1047.36 L1145.90,1047.43 L1146.71,1047.49 L1147.52,1047.55 L1148.33,1047.61 L1149.13,1047.66 L1149.94,1047.72 L1150.75,1047.77 L1151.56,1047.81 L1152.37,1047.86 L1153.18,1047.90 L1153.99,1047.94 L1154.80,1047.98 L1155.61,1048.01 L1156.42,1048.05 L1157.23,1048.08 L1158.04,1048.12 L1158.85,1048.15 L1159.66,1048.18 L1160.47,1048.20 L1161.28,1048.23 L1162.09,1048.26 L1162.89,1048.28 L1163.70,1048.31 L1164.51,1048.33 L1165.32,1048.35 L1166.13,1048.37 L1166.94,1048.39 L1167.75,1048.41 L1168.56,1048.43 L1169.37,1048.45 L1170.18,1048.47 L1170.99,1048.48 L1171.80,1048.50 L1172.61,1048.52 L1173.42,1048.53 L1174.23,1048.55 L1175.04,1048.56 L1175.85,1048.57 L1176.66,1048.59 L1177.46,1048.60 L1178.27,1048.61 L1179.08,1048.63 L1179.89,1048.64 L1180.70,1048.65 L1181.51,1048.66 L1182.32,1048.67 L1183.13,1048.68 L1183.94,1048.69 L1184.75,1048.70 L1185.56,1048.71 L1186.37,1048.72 L1187.18,1048.73 L1187.99,1048.74 L1188.80,1048.75 L1189.61,1048.75 L1190.42,1048.76 L1191.23,1048.77 L1192.03,1048.78 L1192.84,1048.78 L1193.65,1048.79 L1194.46,1048.80 L1195.27,1048.81 L1196.08,1048.81 L1196.89,1048.82 L1197.70,1048.83 L1198.51,1048.83 L1199.32,1048.84 L1200.13,1048.84 L1200.94,1048.85 L1201.75,1048.85 L1202.56,1048.86 L1203.37,1048.87 L1204.18,1048.87 L1204.99,1048.88 L1205.80,1048.88 L1206.61,1048.89 L1207.41,1048.89 L1208.22,1048.89 L1209.03,1048.90 L1209.84,1048.90 L1210.65,1048.91 L1211.46,1048.91 L1212.27,1048.92 L1213.08,1048.92 L1213.89,1048.92 L1214.70,1048.93 L1215.51,1048.93 L1216.32,1048.94 L1217.13,1048.94 L1217.94,1048.94 L1218.75,1048.95 L1219.56,1048.95 L1220.37,1048.95 L1221.17,1048.96 L1221.98,1048.96 L1222.79,1048.96 L1223.60,1048.97 L1224.41,1048.97 L1225.22,1048.97 L1226.03,1048.97 L1226.84,1048.98 L1227.65,1048.98 L1228.46,1048.98 L1229.27,1048.99 L1230.08,1048.99 L1230.89,1048.99 L1231.70,1048.99 L1232.51,1049.00 L1233.32,1049.00 L1234.13,1049.00 L1234.94,1049.00 L1235.74,1049.00 L1236.55,1049.01 L1237.36,1049.01 L1238.17,1049.01 L1238.98,1049.01 L1239.79,1049.02 L1240.60,1049.02 L1241.41,1049.02 L1242.22,1049.02 L1243.03,1049.02 L1243.84,1049.03 L1244.65,1049.03 L1245.46,1049.03 L1246.27,1049.03 L1247.08,1049.03 L1247.89,1049.04 L1248.70,1049.04 L1249.51,1049.04 L1250.32,1049.04 L1251.12,1049.04 L1251.93,1049.04 L1252.74,1049.05 L1253.55,1049.05 L1254.36,1049.05 L1255.17,1049.05 L1255.98,1049.05 L1256.79,1049.05 L1257.60,1049.05 L1258.41,1049.06 L1259.22,1049.06 L1260.03,1049.06 L1260.84,1049.06 L1261.65,1049.06 L1262.46,1049.06 L1263.27,1049.06 L1264.08,1049.07 L1264.88,1049.07 L1265.69,1049.07 L1266.50,1049.07 L1267.31,1049.07 L1268.12,1049.07 L1268.93,1049.07 L1269.74,1049.07 L1270.55,1049.08 L1271.36,1049.08 L1272.17,1049.08 L1272.98,1049.08 L1273.79,1049.08 L1274.60,1049.08 L1275.41,1049.08 L1276.22,1049.08 L1277.03,1049.08 L1277.84,1049.08 L1278.65,1049.09 L1279.45,1049.09 L1280.26,1049.09 L1281.07,1049.09 L1281.88,1049.09 L1282.69,1049.09 L1283.50,1049.09 L1284.31,1049.09 L1285.12,1049.09 L1285.93,1049.09 L1286.74,1049.10 L1287.55,1049.10 L1288.36,1049.10 L1289.17,1049.10 L1289.98,1049.10 L1290.79,1049.10 L1291.60,1049.10 L1292.41,1049.10 L1293.22,1049.10 L1294.02,1049.10 L1294.83,1049.10 L1295.64,1049.10 L1296.45,1049.10 L1297.26,1049.11 L1298.07,1049.11 L1298.88,1049.11 L1299.69,1049.11 L1300.50,1049.11 L1301.31,1049.11 L1302.12,1049.11 L1302.93,1049.11 L1303.74,1049.11 L1304.55,1049.11 L1305.36,1049.11 L1306.17,1049.11 L1306.98,1049.11 L1307.79,1049.11 L1308.60,1049.12 L1309.40,1049.12 L1310.21,1049.12 L1311.02,1049.12 L1311.83,1049.12 L1312.64,1049.12 L1313.45,1049.12 L1314.26,1049.12 L1315.07,1049.12 L1315.88,1049.12 L1316.69,1049.12 L1317.50,1049.12 L1318.31,1049.12 L1319.12,1049.12 L1319.93,1049.12 L1320.74,1049.12 L1321.55,1049.12 L1322.36,1049.13 L1323.16,1049.13 L1323.97,1049.13 L1324.78,1049.13 L1325.59,1049.13 L1326.40,1049.13 L1327.21,1049.13 L1328.02,1049.13 L1328.83,1049.13 L1329.64,1049.13 L1330.45,1049.13 L1331.26,1049.13 L1332.07,1049.13 L1332.88,1049.13 L1333.69,1049.13 L1334.50,1049.13 L1335.31,1049.13 L1336.12,1049.13 L1336.93,1049.13 L1337.73,1049.13 L1338.54,1049.13 L1339.35,1049.13 L1340.16,1049.14 L1340.97,1049.14 L1341.78,1049.14 L1342.59,1049.14 L1343.40,1049.14 L1344.21,1049.14 L1345.02,1049.14 L1345.83,1049.14 L1346.64,1049.14 L1347.45,1049.14 L1348.26,1049.14 L1349.07,1049.14 L1349.88,1049.14 L1350.69,1049.14 L1351.50,1049.14 L1352.30,1049.14 L1353.11,1049.14 L1353.92,1049.14 L1354.73,1049.14 L1355.54,1049.14 L1356.35,1049.14 L1357.16,1049.14 L1357.97,1049.14 L1358.78,1049.14 L1359.59,1049.14 L1360.40,1049.14 L1361.21,1049.14 L1362.02,1049.15 L1362.83,1049.15 L1363.64,1049.15 L1364.45,1049.15 L1365.26,1049.15 L1366.07,1049.15 L1366.88,1049.15 L1367.68,1049.15 L1368.49,1049.15 L1369.30,1049.15 L1370.11,1049.15 L1370.92,1049.15 L1371.73,1049.15 L1372.54,1049.15 L1373.35,1049.15 L1374.16,1049.15 L1374.97,1049.15 L1375.78,1049.15 L1376.59,1049.15 L1377.40,1049.15 L1378.21,1049.15 L1379.02,1049.15 L1379.83,1049.15 L1380.64,1049.15 L1381.44,1049.15 L1382.25,1049.15 L1383.06,1049.15 L1383.87,1049.15 L1384.68,1049.15 L1385.49,1049.15 L1386.30,1049.15 L1387.11,1049.15 L1387.92,1049.15 L1388.73,1049.15 L1389.54,1049.15 L1390.35,1049.15 L1391.16,1049.16 L1391.97,1049.16 L1392.78,1049.16 L1393.59,1049.16 L1394.40,1049.16 L1395.21,1049.16 L1396.01,1049.16 L1396.82,1049.16 L1397.63,1049.16 L1398.44,1049.16 L1399.25,1049.16 L1400.06,1049.16 L1400.87,1049.16 L1401.68,1049.16 L1402.49,1049.16 L1403.30,1049.16 L1404.11,1049.16 L1404.92,1049.16 L1405.73,1049.16 L1406.54,1049.16 L1407.35,1049.16 L1408.16,1049.16 L1408.97,1049.16 L1409.78,1049.16 L1410.59,1049.16 L1411.39,1049.16 L1412.20,1049.16 L1413.01,1049.16 L1413.82,1049.16 L1414.63,1049.16 L1415.44,1049.16 L1416.25,1049.16 L1417.06,1049.16 L1417.87,1049.16 L1418.68,1049.16 L1419.49,1049.16 L1420.30,1049.16 L1421.11,1049.16 L1421.92,1049.16 L1422.73,1049.16 L1423.54,1049.16 L1424.35,1049.16 L1425.15,1049.16 L1425.96,1049.16 L1426.77,1049.16 L1427.58,1049.16 L1428.39,1049.16 L1429.20,1049.16 L1430.01,1049.16 L1430.82,1049.16 L1431.63,1049.16 L1432.44,1049.17 L1433.25,1049.17 L1434.06,1049.17 L1434.87,1049.17 L1435.68,1049.17 L1436.49,1049.17 L1437.30,1049.17 L1438.11,1049.17 L1438.92,1049.17 L1439.72,1049.17 L1440.53,1049.17 L1441.34,1049.17 L1442.15,1049.17 L1442.96,1049.17 L1443.77,1049.17 L1444.58,1049.17 L1445.39,1049.17 L1446.20,1049.17 L1447.01,1049.17 L1447.82,1049.17 L1448.63,1049.17 L1449.44,1049.17 L1450.25,1049.17 L1451.06,1049.17 L1451.87,1049.17 L1452.68,1049.17 L1453.49,1049.17 L1454.29,1049.17 L1455.10,1049.17 L1455.91,1049.17 L1456.72,1049.17 L1457.53,1049.17 L1458.34,1049.17 L1459.15,1049.17 L1459.96,1049.17 L1460.77,1049.17 L1461.58,1049.17 L1462.39,1049.17 L1463.20,1049.17 L1464.01,1049.17 L1464.82,1049.17 L1465.63,1049.17 L1466.44,1049.17 L1467.25,1049.17 L1468.06,1049.17 L1468.87,1049.17 L1469.67,1049.17 L1470.48,1049.17 L1471.29,1049.17 L1472.10,1049.17 L1472.91,1049.17 L1473.72,1049.17 L1474.53,1049.17 L1475.34,1049.17 L1476.15,1049.17 L1476.96,1049.17 L1477.77,1049.17 L1478.58,1049.17 L1479.39,1049.17 L1480.20,1049.17 L1481.01,1049.17 L1481.82,1049.17 L1482.63,1049.17 L1483.43,1049.17 L1484.24,1049.17 L1485.05,1049.17 L1485.86,1049.17 L1486.67,1049.17 L1487.48,1049.17 L1488.29,1049.17 L1489.10,1049.17 L1489.91,1049.17 L1490.72,1049.17 L1491.53,1049.17 L1492.34,1049.17 L1493.15,1049.17 L1493.96,1049.17 L1494.77,1049.17 L1495.58,1049.17 L1496.39,1049.17 L1497.20,1049.17 L1498.00,1049.18 L1498.81,1049.18 L1499.62,1049.18 L1500.43,1049.18 L1501.24,1049.18 L1502.05,1049.18 L1502.86,1049.18 L1503.67,1049.18 L1504.48,1049.18 L1505.29,1049.18 L1506.10,1049.18 L1506.91,1049.18 L1507.72,1049.18 L1508.53,1049.18 L1509.34,1049.18 L1510.15,1049.18 L1510.96,1049.18 L1511.77,1049.18 L1512.58,1049.18 L1513.38,1049.18 L1514.19,1049.18 L1515.00,1049.18 L1515.81,1049.18 L1516.62,1049.18 L1517.43,1049.18 L1518.24,1049.18 L1519.05,1049.18 L1519.86,1049.18 L1520.67,1049.18 L1521.48,1049.18 L1522.29,1049.18 L1523.10,1049.18 L1523.91,1049.18 L1524.72,1049.18 L1525.53,1049.18 L1526.34,1049.18 L1527.14,1049.18 L1527.95,1049.18 L1528.76,1049.18 L1529.57,1049.18 L1530.38,1049.18 L1531.19,1049.18 L1532.00,1049.18 L1532.81,1049.18 L1533.62,1049.18 L1534.43,1049.18 L1535.24,1049.18 L1536.05,1049.18 L1536.86,1049.18 L1537.67,1049.18 L1538.48,1049.18 L1539.29,1049.18 L1540.10,1049.18 L1540.91,1049.18 L1541.71,1049.18 L1542.52,1049.18 L1543.33,1049.18 L1544.14,1049.18 L1544.95,1049.18 L1545.76,1049.18 L1546.57,1049.18 L1547.38,1049.18 L1548.19,1049.18 L1549.00,1049.18 L1549.81,1049.18 L1550.62,1049.18 L1551.43,1049.18 L1552.24,1049.18 L1553.05,1049.18 L1553.86,1049.18 L1554.67,1049.18 L1555.48,1049.18 L1556.28,1049.18 L1557.09,1049.18"/>
</g>
<rect x="92" y="11.5" width="1457" height="1087.5" fill="none" stroke="#000" stroke-width="6.2"/>
<g stroke="#000" stroke-width="6.1">
<line x1="92.00" y1="1099" x2="92.00" y2="1123"/>
<line x1="415.78" y1="1099" x2="415.78" y2="1123"/>
<line x1="739.56" y1="1099" x2="739.56" y2="1123"/>
<line x1="1063.33" y1="1099" x2="1063.33" y2="1123"/>
<line x1="1387.11" y1="1099" x2="1387.11" y2="1123"/>
</g>
</svg></body></html>
